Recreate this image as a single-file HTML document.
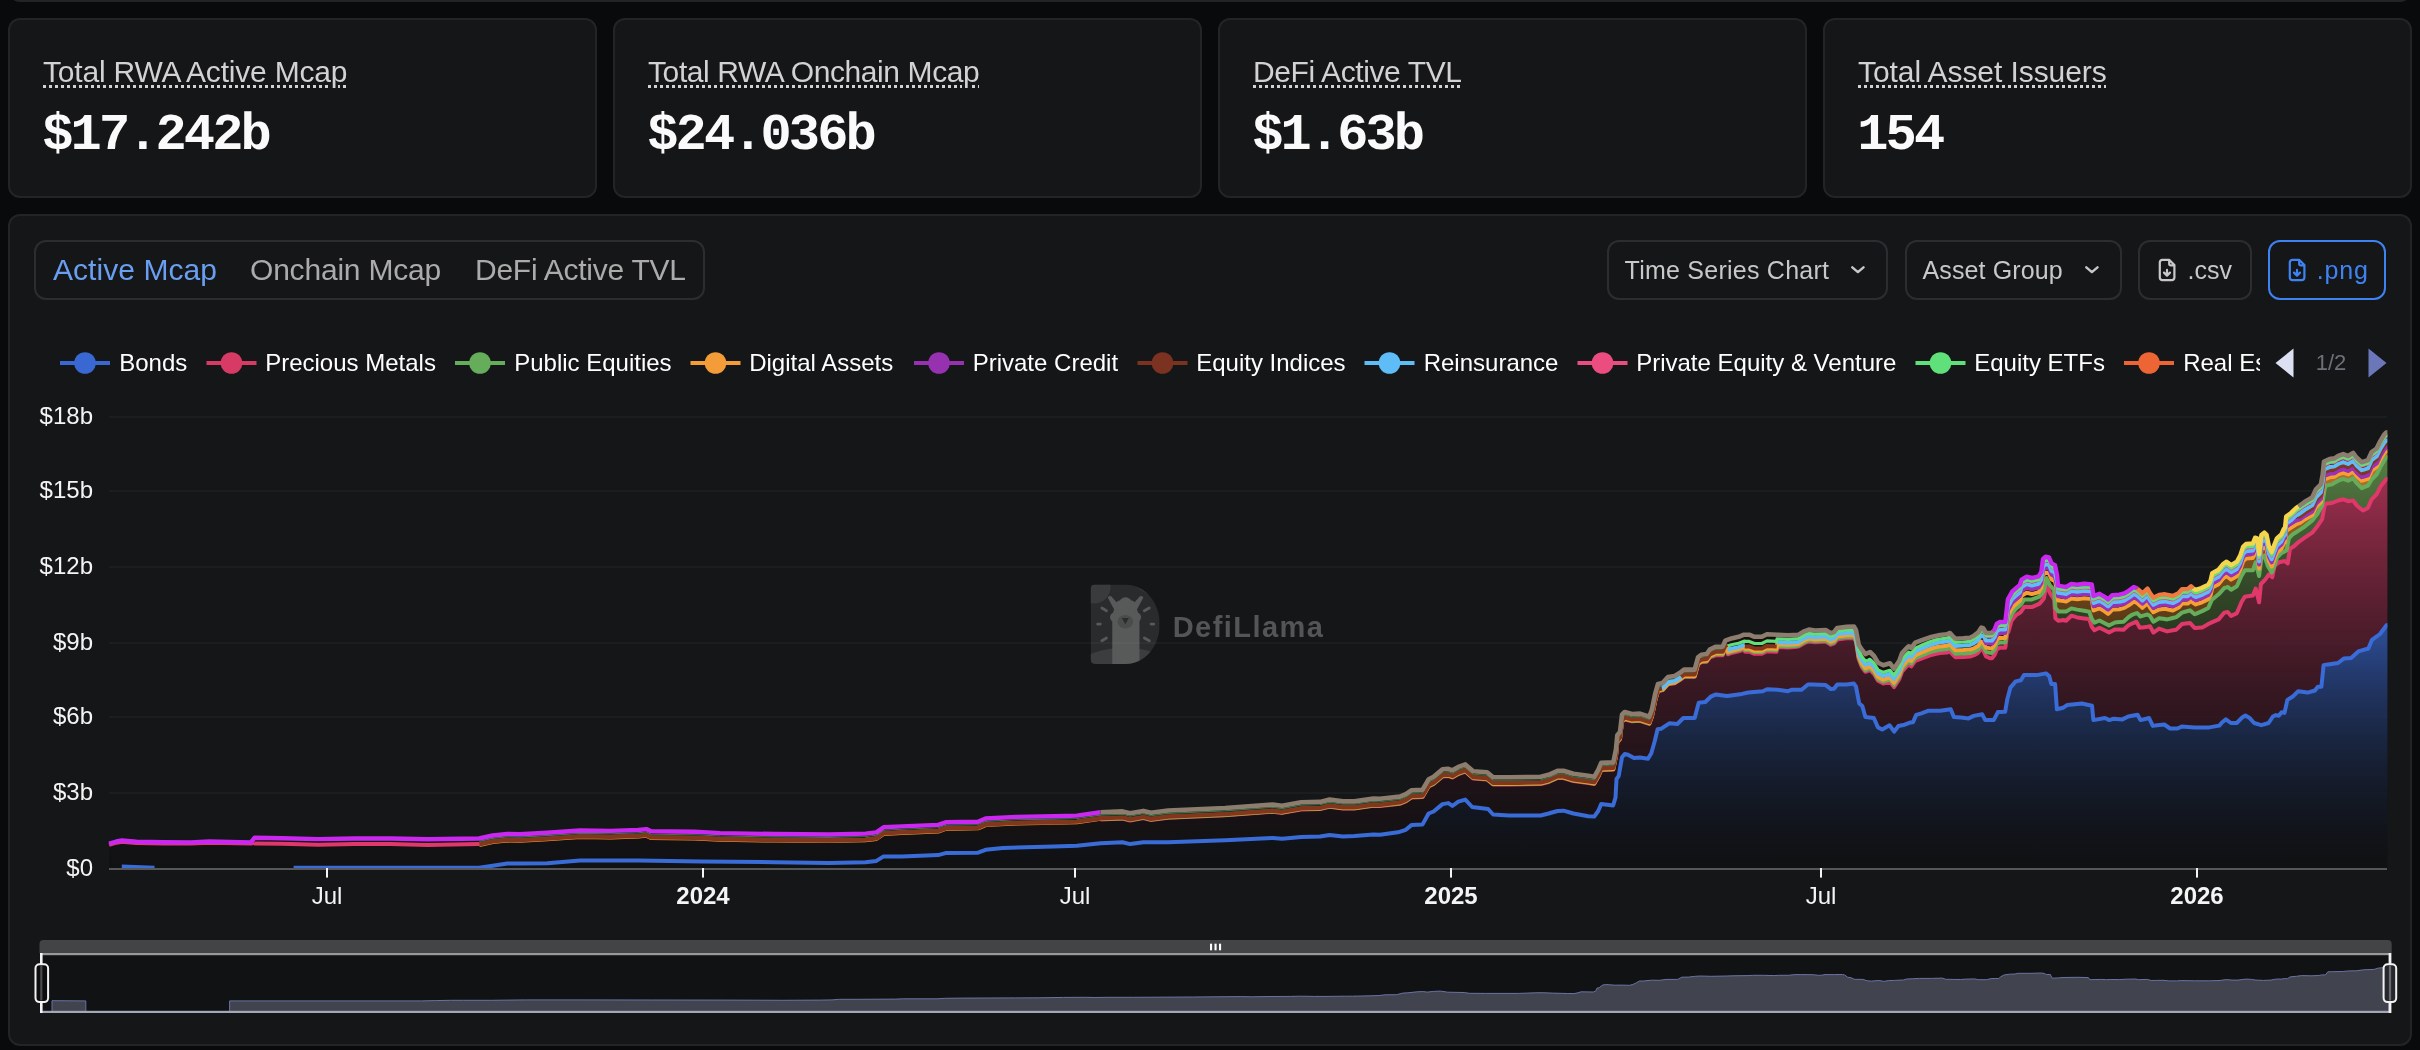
<!DOCTYPE html>
<html><head><meta charset="utf-8"><title>RWA</title>
<style>
*{box-sizing:border-box;margin:0;padding:0}
html,body{width:2420px;height:1050px;overflow:hidden;background:#090a0c}
body{position:relative;font-family:"Liberation Sans",sans-serif;color:#fff}
.abs{position:absolute}
.card{position:absolute;background:#151618;border:2px solid #232427;border-radius:12px}
.lbl{position:absolute;left:33px;top:33.5px;font-size:30px;line-height:36px;color:#d2d2d4;white-space:nowrap;letter-spacing:-0.2px;
 text-decoration:underline dotted;text-decoration-thickness:3px;text-underline-offset:2.5px;text-decoration-color:#d2d2d4}
.val{position:absolute;left:32.3px;top:85.5px;font-family:"Liberation Mono",monospace;font-weight:700;font-size:52px;line-height:60px;letter-spacing:-2.9px;color:#fafafa;white-space:nowrap}
.btn{position:absolute;top:240px;height:60px;border:2px solid #2b2e31;border-radius:12px;color:#c8c8c8;font-size:24px;white-space:nowrap}
.bt{position:absolute;top:255.5px;line-height:28px;font-size:25px;color:#c8c8c8;white-space:nowrap}
.tab{position:absolute;top:11px;font-size:30px;line-height:34px;color:#ababab;white-space:nowrap}
.lg{position:absolute;top:349px;height:28px;font-size:24px;line-height:28px;color:#fff;white-space:nowrap}
.yl{position:absolute;left:0;width:93px;text-align:right;font-size:24px;line-height:28px;color:#f4f4f4}
.xl{position:absolute;top:882px;width:120px;text-align:center;font-size:24px;line-height:28px;color:#f4f4f4}
.xl b{font-weight:700}
#root{position:absolute;left:0;top:0;width:2420px;height:1050px;will-change:transform;overflow:hidden}
</style></head><body><div id="root">
<!-- strip of card above -->
<div class="abs" style="left:8px;top:-40px;width:2404px;height:42px;background:#151619;border:2px solid #232427;border-radius:12px"></div>

<!-- stat cards -->
<div class="card" style="left:8px;top:18px;width:589px;height:180px"><div class="lbl">Total RWA Active Mcap</div><div class="val">$17.242b</div></div>
<div class="card" style="left:613px;top:18px;width:589px;height:180px"><div class="lbl" style="letter-spacing:-0.4px">Total RWA Onchain Mcap</div><div class="val">$24.036b</div></div>
<div class="card" style="left:1218px;top:18px;width:589px;height:180px"><div class="lbl" style="letter-spacing:-0.4px">DeFi Active TVL</div><div class="val">$1.63b</div></div>
<div class="card" style="left:1823px;top:18px;width:589px;height:180px"><div class="lbl" style="letter-spacing:-0.08px">Total Asset Issuers</div><div class="val">154</div></div>

<!-- chart card -->
<div class="card" style="left:8px;top:214px;width:2404px;height:832px"></div>

<!-- tabs -->
<div class="abs" style="left:34px;top:240px;width:671px;height:60px;border:2px solid #2b2e31;border-radius:12px">
 <div class="tab" style="left:17px;color:#6a9ef0;letter-spacing:0.05px">Active Mcap</div>
 <div class="tab" style="left:214px;letter-spacing:-0.2px">Onchain Mcap</div>
 <div class="tab" style="left:439px;letter-spacing:-0.25px">DeFi Active TVL</div>
</div>

<!-- right buttons -->
<div class="btn" style="left:1607px;width:281px"></div>
<div class="bt" style="left:1624.6px;letter-spacing:0.24px">Time Series Chart</div>
<svg class="abs" style="left:1851.2px;top:266.3px" width="16" height="10" viewBox="0 0 16 10"><path d="M1.3 1.3 L6.9 6.1 L12.5 1.3" fill="none" stroke="#c8c8c8" stroke-width="2.4" stroke-linecap="round" stroke-linejoin="round"/></svg>
<div class="btn" style="left:1905px;width:217px"></div>
<div class="bt" style="left:1922.6px;letter-spacing:0.1px">Asset Group</div>
<svg class="abs" style="left:2085.2px;top:266.3px" width="16" height="10" viewBox="0 0 16 10"><path d="M1.3 1.3 L6.9 6.1 L12.5 1.3" fill="none" stroke="#c8c8c8" stroke-width="2.4" stroke-linecap="round" stroke-linejoin="round"/></svg>
<div class="btn" style="left:2138px;width:114px"></div>
<svg class="abs" style="left:2154.9px;top:257.2px" width="24" height="26" viewBox="0 0 24 26"><path d="M14.4 2.9 H7.3 a2.5 2.5 0 0 0 -2.5 2.5 v15.2 a2.5 2.5 0 0 0 2.5 2.5 h9.6 a2.5 2.5 0 0 0 2.5 -2.5 V8 Z M14.2 3.1 v3.6 a1.6 1.6 0 0 0 1.6 1.6 h3.4 M12 12.9 v5.6 M9 15.6 l3 3 l3 -3" fill="none" stroke="#c8c8c8" stroke-width="2.2" stroke-linecap="round" stroke-linejoin="round"/></svg>
<div class="bt" style="left:2187.6px">.csv</div>
<div class="btn" style="left:2268px;width:118px;border-color:#3f83f3"></div>
<svg class="abs" style="left:2284.8px;top:257.2px" width="24" height="26" viewBox="0 0 24 26"><path d="M14.4 2.9 H7.3 a2.5 2.5 0 0 0 -2.5 2.5 v15.2 a2.5 2.5 0 0 0 2.5 2.5 h9.6 a2.5 2.5 0 0 0 2.5 -2.5 V8 Z M14.2 3.1 v3.6 a1.6 1.6 0 0 0 1.6 1.6 h3.4 M12 12.9 v5.6 M9 15.6 l3 3 l3 -3" fill="none" stroke="#3f83f3" stroke-width="2.2" stroke-linecap="round" stroke-linejoin="round"/></svg>
<div class="bt" style="left:2316.8px;color:#3f83f3;letter-spacing:0.8px">.png</div>
<!-- legend -->
<div class="abs" style="left:0;top:0;width:2259.5px;height:1050px;overflow:hidden">
<svg class="abs" style="left:0;top:340px" width="2260" height="46" viewBox="0 340 2260 46">
<rect x="60" y="361" width="50" height="4" fill="#3a68d2"/><circle cx="85" cy="363" r="10.8" fill="#3a68d2"/>
<rect x="206.5" y="361" width="50" height="4" fill="#d83a66"/><circle cx="231.5" cy="363" r="10.8" fill="#d83a66"/>
<rect x="455" y="361" width="50" height="4" fill="#66ad5b"/><circle cx="480" cy="363" r="10.8" fill="#66ad5b"/>
<rect x="690.5" y="361" width="50" height="4" fill="#f39c38"/><circle cx="715.5" cy="363" r="10.8" fill="#f39c38"/>
<rect x="914" y="361" width="50" height="4" fill="#9632b0"/><circle cx="939" cy="363" r="10.8" fill="#9632b0"/>
<rect x="1137.5" y="361" width="50" height="4" fill="#7b3220"/><circle cx="1162.5" cy="363" r="10.8" fill="#7b3220"/>
<rect x="1364.5" y="361" width="50" height="4" fill="#5ebdf6"/><circle cx="1389.5" cy="363" r="10.8" fill="#5ebdf6"/>
<rect x="1577.5" y="361" width="50" height="4" fill="#ec4d81"/><circle cx="1602.5" cy="363" r="10.8" fill="#ec4d81"/>
<rect x="1915.5" y="361" width="50" height="4" fill="#60e07b"/><circle cx="1940.5" cy="363" r="10.8" fill="#60e07b"/>
<rect x="2124" y="361" width="50" height="4" fill="#ee6535"/><circle cx="2149" cy="363" r="10.8" fill="#ee6535"/>
</svg>
<div class="lg" style="left:119.2px">Bonds</div>
<div class="lg" style="left:265.2px">Precious Metals</div>
<div class="lg" style="left:514.2px">Public Equities</div>
<div class="lg" style="left:749.2px">Digital Assets</div>
<div class="lg" style="left:972.7px">Private Credit</div>
<div class="lg" style="left:1196.2px">Equity Indices</div>
<div class="lg" style="left:1423.7px">Reinsurance</div>
<div class="lg" style="left:1636.2px">Private Equity &amp; Venture</div>
<div class="lg" style="left:1974.2px">Equity ETFs</div>
<div class="lg" style="left:2183.2px">Real Estate</div>
</div>
<svg class="abs" style="left:2270px;top:340px" width="130" height="46" viewBox="2270 340 130 46"><path d="M2293.5 348.5 L2293.5 377.5 L2275.5 363 Z" fill="#dde0f2"/><path d="M2368.5 348.5 L2368.5 377.5 L2386.5 363 Z" fill="#6b77b8"/></svg>
<div class="abs" style="left:2301px;top:350px;width:60px;text-align:center;font-size:22px;line-height:26px;color:#6e7079">1/2</div>
<!-- axes -->
<div class="yl" style="top:402.0px">$18b</div>
<div class="yl" style="top:476.0px">$15b</div>
<div class="yl" style="top:552.0px">$12b</div>
<div class="yl" style="top:628.0px">$9b</div>
<div class="yl" style="top:702.0px">$6b</div>
<div class="yl" style="top:778.0px">$3b</div>
<div class="yl" style="top:854.0px">$0</div>
<div class="xl" style="left:267px">Jul</div>
<div class="xl" style="left:643px"><b>2024</b></div>
<div class="xl" style="left:1015px">Jul</div>
<div class="xl" style="left:1391px"><b>2025</b></div>
<div class="xl" style="left:1761px">Jul</div>
<div class="xl" style="left:2137px"><b>2026</b></div>
<!-- watermark -->
<svg class="abs" style="left:1070px;top:570px" width="280" height="110" viewBox="0 0 2420 951">
<defs><clipPath id="dclip"><path d="M218,125 H470 C650,125 775,280 775,468 C775,657 650,812 470,812 H218 Q178,812 178,772 V165 Q178,125 218,125 Z"/></clipPath></defs>
<g clip-path="url(#dclip)">
<rect x="170" y="120" width="620" height="700" fill="#2a2b2d"/>
<circle cx="210" cy="150" r="140" fill="#3a3b3d"/>
<path d="M540,120 C600,170 640,200 700,215 L790,215 L790,120 Z" fill="#333436"/>
<ellipse cx="470" cy="1000" rx="520" ry="330" fill="#3c3d3f"/>
<g fill="#585a5a">
<rect x="365" y="420" width="235" height="400"/>
<circle cx="480" cy="385" r="108"/><circle cx="388" cy="408" r="42"/><circle cx="572" cy="408" r="42"/>
<circle cx="480" cy="292" r="56"/><circle cx="432" cy="304" r="40"/><circle cx="528" cy="304" r="40"/>
<path d="M326,238 Q336,218 356,228 L436,318 L386,350 Z"/><path d="M634,238 Q624,218 604,228 L524,318 L574,350 Z"/>
</g>
<ellipse cx="478" cy="447" rx="68" ry="58" fill="#4a4c4c"/>
<path d="M448,416 L508,416 L478,470 Z" fill="#2a2b2d"/>
<g stroke="#57595a" stroke-width="24" stroke-linecap="round" fill="none">
<path d="M275,328 L315,352"/><path d="M685,328 L642,352"/><path d="M238,467 L262,467"/><path d="M700,467 L724,467"/><path d="M275,612 L315,588"/><path d="M685,612 L642,588"/>
</g>
</g>
</svg>
<div class="abs" style="left:1172.7px;top:607px;font-size:29px;line-height:40px;font-weight:700;letter-spacing:1.45px;color:#545556;white-space:nowrap">DefiLlama</div>

<!-- chart -->
<svg class="abs" style="left:0;top:400px" width="2420" height="500" viewBox="0 400 2420 500">
<defs>
<linearGradient id="gB" gradientUnits="userSpaceOnUse" x1="0" y1="625" x2="0" y2="869.0"><stop offset="0" stop-color="#3a68d2" stop-opacity="0.7"/><stop offset="1" stop-color="#000" stop-opacity="0.217"/></linearGradient>
<linearGradient id="gP" gradientUnits="userSpaceOnUse" x1="0" y1="479" x2="0" y2="869.0"><stop offset="0" stop-color="#d83a66" stop-opacity="0.7"/><stop offset="1" stop-color="#000" stop-opacity="0.217"/></linearGradient>
<linearGradient id="gG" gradientUnits="userSpaceOnUse" x1="0" y1="457" x2="0" y2="869.0"><stop offset="0" stop-color="#66ad5b" stop-opacity="0.7"/><stop offset="1" stop-color="#000" stop-opacity="0.217"/></linearGradient>
<linearGradient id="gO" gradientUnits="userSpaceOnUse" x1="0" y1="470" x2="0" y2="869.0"><stop offset="0" stop-color="#f39c38" stop-opacity="0.7"/><stop offset="1" stop-color="#000" stop-opacity="0.217"/></linearGradient>
<linearGradient id="gT" gradientUnits="userSpaceOnUse" x1="0" y1="433" x2="0" y2="869.0"><stop offset="0" stop-color="#3a1408" stop-opacity="0.7"/><stop offset="1" stop-color="#000" stop-opacity="0.217"/></linearGradient>
</defs>
<clipPath id="above"><polygon points="109.0,400.0 2387.0,400.0 2387.0,432.0 2390.0,432.0 2386.2,432.5 2384.0,434.9 2380.3,441.1 2376.6,448.5 2371.6,452.2 2367.9,460.3 2361.7,462.2 2356.8,457.8 2353.1,452.9 2348.1,456.0 2343.2,454.1 2338.2,456.0 2334.5,458.4 2329.5,459.1 2324.0,461.5 2322.7,474.5 2320.9,484.4 2315.9,489.4 2312.2,497.4 2304.8,501.8 2299.8,505.5 2296.1,508.0 2291.1,512.9 2286.2,516.6 2285.0,527.8 2283.7,529.1 2281.4,534.3 2276.9,538.3 2274.6,544.0 2271.7,552.0 2268.9,546.3 2266.6,534.9 2264.3,532.6 2261.4,534.9 2259.1,554.3 2257.4,538.3 2255.1,537.7 2252.9,543.4 2246.0,544.0 2243.1,546.9 2240.3,555.4 2236.9,561.7 2231.1,565.1 2226.6,561.7 2223.1,564.0 2218.6,569.7 2212.3,573.1 2210.6,580.6 2208.3,584.6 2201.4,588.0 2195.7,589.9 2193.4,588.6 2191.1,586.3 2187.7,589.1 2182.0,589.1 2178.6,593.1 2172.9,596.0 2164.9,594.3 2159.1,594.9 2153.4,597.7 2150.0,593.1 2147.5,588.7 2142.4,593.4 2140.7,591.7 2136.8,588.3 2133.8,587.0 2128.7,590.8 2124.4,593.4 2119.3,594.7 2112.4,595.1 2108.1,599.4 2104.7,596.8 2099.5,593.8 2093.5,596.0 2091.8,584.4 2084.1,583.8 2077.3,584.8 2071.3,584.0 2066.1,587.0 2063.6,586.6 2058.0,585.7 2057.1,575.4 2055.0,565.1 2051.6,563.4 2049.0,557.4 2045.6,556.6 2043.0,559.1 2041.3,572.0 2038.7,576.3 2031.8,578.0 2026.7,576.7 2021.6,579.7 2019.9,584.8 2016.4,587.8 2012.1,591.7 2007.9,599.4 2005.3,622.1 2000.0,622.0 1996.7,624.0 1994.7,629.3 1992.0,633.0 1986.0,633.0 1983.3,628.3 1981.3,627.7 1978.0,632.7 1974.0,635.7 1970.0,637.7 1963.3,638.3 1955.3,638.7 1953.3,636.7 1950.0,633.0 1946.7,634.3 1940.0,635.0 1930.0,637.3 1923.3,639.7 1915.3,642.7 1911.3,648.0 1908.7,646.3 1906.0,648.7 1902.0,653.3 1899.3,660.7 1894.0,668.7 1890.0,663.3 1883.3,665.3 1878.0,662.7 1874.0,656.0 1870.0,652.0 1865.4,654.1 1861.3,648.9 1858.7,644.7 1856.0,630.1 1853.9,626.5 1846.6,626.9 1837.2,628.0 1834.0,632.1 1830.9,633.2 1825.7,630.1 1815.2,630.5 1808.9,629.6 1804.7,631.1 1798.4,634.7 1788.0,635.3 1777.5,634.7 1767.0,634.2 1761.8,636.8 1754.5,636.8 1749.2,634.7 1744.0,634.7 1738.7,636.8 1731.4,638.4 1725.3,640.7 1722.7,646.7 1716.0,646.7 1710.0,649.3 1706.7,654.0 1701.3,654.7 1698.0,657.3 1694.7,669.6 1684.0,669.6 1680.0,672.7 1674.7,676.0 1668.0,677.1 1662.7,682.9 1658.0,684.0 1655.3,693.3 1652.0,709.3 1649.3,716.7 1640.0,713.6 1632.0,714.0 1624.7,712.0 1622.0,714.7 1620.0,732.0 1617.3,735.3 1616.0,749.3 1613.3,762.4 1601.2,762.9 1598.2,769.8 1594.2,776.8 1588.3,775.8 1573.4,773.8 1563.5,770.8 1557.5,770.8 1548.6,774.8 1540.7,776.8 1508.9,777.3 1493.1,777.3 1487.1,772.3 1473.2,771.3 1465.3,764.4 1458.3,766.9 1452.4,770.3 1448.4,768.8 1442.5,769.3 1433.6,776.8 1428.6,779.3 1422.6,789.7 1411.7,790.2 1405.8,794.1 1399.8,796.6 1380.0,798.8 1373.4,798.6 1354.4,801.4 1343.0,801.4 1329.6,799.5 1320.1,801.9 1301.1,802.3 1282.1,805.7 1272.6,804.6 1225.1,808.0 1168.1,810.5 1151.0,812.8 1143.4,810.9 1130.1,813.3 1122.5,811.4 1100.6,812.2 1076.9,815.6 1054.0,816.2 1016.0,816.9 985.6,818.5 978.0,821.7 945.7,822.3 938.2,824.9 901.8,826.4 883.6,827.3 876.4,832.4 865.5,833.6 829.1,834.5 774.5,834.0 720.0,833.1 694.5,831.8 650.9,831.3 646.4,829.1 638.2,830.0 610.9,830.9 580.0,830.5 547.3,832.7 520.0,834.2 507.3,834.0 492.7,835.5 479.1,838.5 427.3,839.3 390.9,838.5 354.5,838.5 318.2,839.1 281.8,838.2 254.5,837.8 250.9,842.4 209.1,841.5 190.9,842.4 163.6,842.2 136.4,841.8 121.8,840.5 116.4,841.5 109.1,843.6 109.0,843.6"/></clipPath>
<rect x="109" y="416" width="2278" height="2" fill="#fff" fill-opacity="0.010"/>
<rect x="109" y="490" width="2278" height="2" fill="#fff" fill-opacity="0.010"/>
<rect x="109" y="566" width="2278" height="2" fill="#fff" fill-opacity="0.010"/>
<rect x="109" y="642" width="2278" height="2" fill="#fff" fill-opacity="0.010"/>
<rect x="109" y="716" width="2278" height="2" fill="#fff" fill-opacity="0.010"/>
<rect x="109" y="792" width="2278" height="2" fill="#fff" fill-opacity="0.010"/>
<g clip-path="url(#above)">
<rect x="109" y="416" width="2278" height="2" fill="#fff" fill-opacity="0.024"/>
<rect x="109" y="490" width="2278" height="2" fill="#fff" fill-opacity="0.024"/>
<rect x="109" y="566" width="2278" height="2" fill="#fff" fill-opacity="0.024"/>
<rect x="109" y="642" width="2278" height="2" fill="#fff" fill-opacity="0.024"/>
<rect x="109" y="716" width="2278" height="2" fill="#fff" fill-opacity="0.024"/>
<rect x="109" y="792" width="2278" height="2" fill="#fff" fill-opacity="0.024"/>
</g>
<clipPath id="plot"><rect x="100" y="400" width="2287.4" height="480"/></clipPath><g clip-path="url(#plot)"><polygon points="121.8,866.4 154.5,867.8 154.5,869.0 121.8,869.0" fill="url(#gB)"/>
<polygon points="293.6,867.8 479.1,867.8 492.7,865.8 507.3,863.6 520.0,863.4 547.3,863.3 580.0,860.5 638.2,860.5 701.8,861.5 774.5,862.2 829.1,863.1 865.5,862.2 876.4,860.9 883.6,856.4 901.8,856.4 938.2,855.1 945.5,853.1 978.0,852.7 985.6,849.8 1002.7,847.9 1054.0,846.6 1076.9,845.7 1100.6,843.2 1122.5,842.2 1130.1,844.1 1143.4,842.2 1168.1,842.2 1225.1,840.3 1272.6,837.9 1282.1,838.8 1301.1,836.9 1320.1,836.5 1329.6,835.0 1343.0,836.5 1354.4,836.0 1373.4,834.6 1380.0,834.8 1397.9,832.3 1405.8,829.8 1411.7,824.9 1422.6,824.4 1428.6,813.5 1433.6,811.5 1442.5,804.1 1448.4,803.1 1452.4,806.0 1458.3,801.6 1465.3,799.6 1472.2,807.0 1488.1,809.0 1493.1,814.5 1508.9,815.5 1540.7,815.5 1548.6,813.5 1557.5,811.0 1563.5,810.7 1573.4,813.5 1588.3,816.3 1594.2,816.6 1598.2,811.0 1601.2,804.1 1613.1,805.5 1615.5,797.6 1616.5,779.0 1618.7,776.0 1622.0,757.3 1624.7,754.0 1628.0,754.7 1634.0,758.0 1640.0,757.6 1648.0,758.7 1651.3,753.3 1654.7,741.3 1657.6,729.3 1661.3,728.7 1669.3,723.3 1677.3,724.0 1683.3,718.0 1694.7,718.0 1698.7,702.7 1705.3,702.0 1710.7,696.7 1716.0,694.4 1723.0,695.4 1727.2,696.0 1741.9,693.9 1748.2,692.5 1762.8,691.2 1767.0,689.3 1777.5,689.7 1788.0,691.2 1792.1,689.7 1801.6,689.7 1807.9,684.5 1813.1,684.5 1825.7,685.1 1830.9,689.1 1834.0,688.7 1837.2,684.5 1846.6,684.5 1853.9,683.5 1856.0,686.6 1859.2,703.4 1862.3,706.1 1865.4,717.0 1873.8,718.0 1878.0,727.4 1882.2,729.5 1889.5,725.3 1894.2,731.6 1898.4,726.0 1904.7,724.7 1909.9,722.6 1913.0,722.2 1916.2,714.9 1921.4,713.4 1928.7,710.7 1940.3,710.7 1950.7,709.2 1953.9,717.0 1961.2,717.6 1968.5,718.4 1973.8,715.9 1982.1,714.2 1985.3,720.1 1993.7,720.1 1997.9,712.1 2005.2,711.7 2007.3,699.2 2010.4,687.6 2015.7,681.4 2020.9,680.3 2024.0,675.1 2036.6,675.1 2046.0,673.4 2049.2,676.1 2051.3,684.0 2055.1,684.0 2056.9,709.3 2063.0,707.8 2067.4,704.9 2081.8,703.5 2092.0,705.7 2093.4,720.1 2105.0,718.0 2109.3,720.1 2113.7,718.7 2122.4,719.4 2128.2,716.5 2137.6,714.8 2140.5,720.1 2149.1,718.0 2152.8,725.9 2157.1,725.2 2164.3,724.5 2170.1,728.5 2177.4,728.5 2181.7,726.6 2194.7,727.4 2209.2,727.4 2219.3,725.6 2222.2,722.3 2225.9,719.4 2230.9,723.0 2236.7,723.0 2242.5,717.2 2245.4,715.5 2249.7,718.0 2254.1,723.0 2261.3,725.2 2268.6,723.0 2272.9,716.5 2275.8,715.1 2278.7,715.8 2281.6,712.2 2284.5,712.9 2287.4,699.9 2293.2,696.2 2298.2,691.2 2307.6,692.6 2314.9,690.5 2317.8,686.8 2321.4,686.8 2323.6,665.1 2327.9,664.4 2338.0,663.0 2343.8,658.6 2351.1,657.9 2358.3,651.4 2368.4,648.5 2372.0,639.8 2380.0,634.0 2384.3,628.2 2386.5,625.3 2390.0,624.6 2390.0,869.0 293.6,869.0" fill="url(#gB)"/>
<polygon points="109.1,844.8 116.4,842.7 121.8,841.7 136.4,843.0 163.6,843.4 190.9,843.6 209.1,842.7 250.9,843.6 254.0,839.6 254.5,842.7 254.6,843.4 281.8,843.8 318.2,844.7 354.5,844.1 390.9,844.1 427.3,844.9 479.0,844.1 479.1,844.3 479.6,845.4 492.7,842.5 507.3,841.0 520.0,841.2 547.3,839.7 580.0,837.5 610.9,837.9 638.2,837.0 646.4,836.1 650.9,838.3 694.5,838.8 720.0,840.1 774.5,841.0 829.1,841.5 865.5,840.6 876.4,839.4 883.6,834.3 901.8,833.4 938.2,831.9 945.7,829.3 978.0,828.7 985.6,825.5 1016.0,823.9 1054.0,823.2 1076.9,822.6 1100.0,819.3 1100.6,819.3 1101.0,819.4 1122.5,818.6 1130.1,820.5 1143.4,818.1 1151.0,820.0 1168.1,817.7 1225.1,815.2 1272.6,811.8 1282.1,812.9 1301.1,809.5 1320.1,809.1 1329.6,806.7 1343.0,808.6 1354.4,808.6 1373.4,805.8 1380.0,806.0 1399.8,803.8 1405.8,801.3 1411.7,797.4 1422.6,796.9 1428.6,786.5 1433.6,784.0 1442.5,776.5 1448.4,776.0 1452.4,777.5 1458.3,774.1 1465.3,771.6 1473.2,778.5 1487.1,779.5 1493.1,784.5 1508.9,784.5 1540.7,784.0 1548.6,782.0 1557.5,778.0 1563.5,778.0 1573.4,781.0 1588.3,783.0 1594.2,784.0 1598.2,777.0 1601.2,770.1 1613.3,769.6 1616.0,756.5 1617.3,742.5 1620.0,739.2 1622.0,721.9 1624.7,719.2 1632.0,721.2 1640.0,720.8 1649.3,723.9 1652.0,716.5 1655.3,700.5 1658.0,691.2 1662.7,690.1 1668.0,684.3 1674.7,683.2 1680.0,679.9 1684.0,676.8 1694.7,676.8 1698.0,664.5 1700.0,662.9 1701.3,662.0 1706.7,661.8 1710.0,657.4 1715.0,655.7 1716.0,655.3 1722.7,655.3 1725.3,649.3 1727.5,648.5 1728.0,654.3 1731.4,653.0 1738.7,651.4 1744.0,649.3 1744.5,649.3 1745.0,651.7 1749.2,651.7 1754.5,653.8 1761.8,653.8 1767.0,651.2 1776.5,651.7 1777.0,647.1 1777.5,647.1 1788.0,647.5 1795.0,646.9 1798.4,646.6 1804.7,643.0 1808.9,641.4 1815.2,642.2 1825.7,641.6 1830.9,644.7 1834.0,643.5 1837.2,639.4 1841.0,638.9 1846.6,638.3 1853.9,638.1 1856.0,641.7 1858.7,659.0 1861.3,665.7 1862.0,667.3 1865.4,671.8 1868.0,670.8 1870.0,669.9 1874.0,674.0 1878.0,680.8 1883.3,683.5 1890.0,681.7 1894.0,687.1 1899.3,679.1 1902.0,671.7 1906.0,667.1 1908.7,664.6 1911.3,666.3 1915.3,660.9 1923.3,657.8 1930.0,655.4 1936.0,653.9 1940.0,653.1 1946.7,652.6 1950.0,651.4 1953.3,655.2 1955.3,657.2 1963.3,657.0 1970.0,656.6 1974.0,655.2 1978.0,652.9 1980.0,650.2 1981.3,648.8 1983.3,650.4 1986.0,656.4 1990.0,658.3 1992.0,658.3 1994.7,654.7 1996.7,649.5 2000.0,647.5 2003.0,647.7 2005.3,647.7 2007.9,628.8 2008.3,632.1 2011.5,620.6 2012.1,619.9 2015.7,615.4 2016.4,614.9 2019.9,612.7 2020.9,612.0 2021.6,610.9 2024.1,607.1 2026.7,607.1 2031.8,607.1 2038.7,604.1 2039.6,603.7 2041.3,601.6 2043.0,599.6 2043.8,598.6 2045.6,589.0 2046.4,584.8 2049.0,590.8 2049.8,592.6 2051.6,595.4 2054.1,599.4 2055.0,612.5 2055.4,618.3 2057.1,619.7 2058.0,620.5 2058.4,620.8 2063.6,620.0 2066.1,620.8 2071.3,615.7 2077.3,617.4 2084.1,618.4 2089.3,619.1 2091.8,626.8 2093.5,629.1 2094.4,630.3 2099.5,627.7 2104.7,630.3 2108.1,632.0 2109.0,632.4 2112.4,630.7 2115.0,629.4 2119.3,629.6 2123.5,629.8 2124.4,629.0 2128.7,625.1 2133.8,622.8 2136.4,621.7 2136.8,622.4 2139.8,627.7 2140.7,627.6 2142.4,627.4 2147.5,626.8 2150.0,626.3 2153.4,632.6 2159.1,628.6 2164.9,630.6 2167.1,631.4 2172.9,630.3 2176.3,629.7 2178.6,627.4 2182.0,624.0 2187.7,623.2 2190.0,622.9 2191.1,624.1 2193.4,626.7 2194.6,628.0 2195.7,627.9 2201.4,627.5 2202.6,627.4 2208.3,624.0 2209.4,623.4 2210.6,622.9 2212.3,622.1 2218.6,619.4 2223.1,614.0 2224.3,612.6 2226.6,612.2 2227.7,612.0 2231.1,616.0 2236.9,613.1 2240.3,604.9 2241.4,602.3 2243.1,599.5 2244.9,596.6 2246.0,596.4 2252.9,595.4 2255.1,590.1 2255.7,588.6 2257.4,595.5 2259.1,602.3 2260.9,584.0 2261.4,583.5 2264.3,580.5 2265.4,579.4 2266.6,577.7 2268.9,574.3 2271.7,576.6 2272.3,577.1 2274.6,565.7 2276.9,564.0 2279.1,562.3 2281.4,561.8 2283.7,561.3 2284.9,561.1 2285.0,561.2 2286.2,562.2 2287.7,563.4 2290.0,548.6 2291.1,548.0 2294.0,546.3 2296.1,544.3 2298.6,542.0 2299.8,541.2 2304.8,537.7 2312.2,532.7 2315.9,528.1 2317.2,526.5 2320.9,520.9 2322.1,519.1 2322.7,515.8 2324.0,508.8 2324.6,505.5 2326.4,503.6 2329.5,503.3 2332.0,503.0 2334.5,502.0 2338.2,500.5 2343.2,499.3 2348.1,501.2 2353.1,500.5 2356.8,505.5 2361.7,509.5 2363.0,510.5 2367.9,508.0 2371.6,499.3 2376.6,494.3 2380.3,486.9 2384.0,482.0 2386.2,479.2 2390.0,478.6 2390.0,624.6 2386.5,625.3 2384.3,628.2 2380.0,634.0 2372.0,639.8 2368.4,648.5 2358.3,651.4 2351.1,657.9 2343.8,658.6 2338.0,663.0 2327.9,664.4 2323.6,665.1 2321.4,686.8 2317.8,686.8 2314.9,690.5 2307.6,692.6 2298.2,691.2 2293.2,696.2 2287.4,699.9 2284.5,712.9 2281.6,712.2 2278.7,715.8 2275.8,715.1 2272.9,716.5 2268.6,723.0 2261.3,725.2 2254.1,723.0 2249.7,718.0 2245.4,715.5 2242.5,717.2 2236.7,723.0 2230.9,723.0 2225.9,719.4 2222.2,722.3 2219.3,725.6 2209.2,727.4 2194.7,727.4 2181.7,726.6 2177.4,728.5 2170.1,728.5 2164.3,724.5 2157.1,725.2 2152.8,725.9 2149.1,718.0 2140.5,720.1 2137.6,714.8 2128.2,716.5 2122.4,719.4 2113.7,718.7 2109.3,720.1 2105.0,718.0 2093.4,720.1 2092.0,705.7 2081.8,703.5 2067.4,704.9 2063.0,707.8 2056.9,709.3 2055.1,684.0 2051.3,684.0 2049.2,676.1 2046.0,673.4 2036.6,675.1 2024.0,675.1 2020.9,680.3 2015.7,681.4 2010.4,687.6 2007.3,699.2 2005.2,711.7 1997.9,712.1 1993.7,720.1 1985.3,720.1 1982.1,714.2 1973.8,715.9 1968.5,718.4 1961.2,717.6 1953.9,717.0 1950.7,709.2 1940.3,710.7 1928.7,710.7 1921.4,713.4 1916.2,714.9 1913.0,722.2 1909.9,722.6 1904.7,724.7 1898.4,726.0 1894.2,731.6 1889.5,725.3 1882.2,729.5 1878.0,727.4 1873.8,718.0 1865.4,717.0 1862.3,706.1 1859.2,703.4 1856.0,686.6 1853.9,683.5 1846.6,684.5 1837.2,684.5 1834.0,688.7 1830.9,689.1 1825.7,685.1 1813.1,684.5 1807.9,684.5 1801.6,689.7 1792.1,689.7 1788.0,691.2 1777.5,689.7 1767.0,689.3 1762.8,691.2 1748.2,692.5 1741.9,693.9 1727.2,696.0 1723.0,695.4 1716.0,694.4 1710.7,696.7 1705.3,702.0 1698.7,702.7 1694.7,718.0 1683.3,718.0 1677.3,724.0 1669.3,723.3 1661.3,728.7 1657.6,729.3 1654.7,741.3 1651.3,753.3 1648.0,758.7 1640.0,757.6 1634.0,758.0 1628.0,754.7 1624.7,754.0 1622.0,757.3 1618.7,776.0 1616.5,779.0 1615.5,797.6 1613.1,805.5 1601.2,804.1 1598.2,811.0 1594.2,816.6 1588.3,816.3 1573.4,813.5 1563.5,810.7 1557.5,811.0 1548.6,813.5 1540.7,815.5 1508.9,815.5 1493.1,814.5 1488.1,809.0 1472.2,807.0 1465.3,799.6 1458.3,801.6 1452.4,806.0 1448.4,803.1 1442.5,804.1 1433.6,811.5 1428.6,813.5 1422.6,824.4 1411.7,824.9 1405.8,829.8 1397.9,832.3 1380.0,834.8 1373.4,834.6 1354.4,836.0 1343.0,836.5 1329.6,835.0 1320.1,836.5 1301.1,836.9 1282.1,838.8 1272.6,837.9 1225.1,840.3 1168.1,842.2 1143.4,842.2 1130.1,844.1 1122.5,842.2 1100.6,843.2 1076.9,845.7 1054.0,846.6 1002.7,847.9 985.6,849.8 978.0,852.7 945.5,853.1 938.2,855.1 901.8,856.4 883.6,856.4 876.4,860.9 865.5,862.2 829.1,863.1 774.5,862.2 701.8,861.5 638.2,860.5 580.0,860.5 547.3,863.3 520.0,863.4 507.3,863.6 492.7,865.8 479.1,867.8 293.6,867.8 293.6,869.0 154.5,869.0 154.5,867.8 121.8,866.4 121.8,869.0 109.1,869.0" fill="url(#gP)"/>
<polygon points="109.1,843.6 116.4,841.5 121.8,840.5 136.4,841.8 163.6,842.2 190.9,842.4 209.1,841.5 250.9,842.4 254.5,837.8 281.8,838.2 318.2,839.1 354.5,838.5 390.9,838.5 427.3,839.3 479.1,838.5 492.7,835.5 507.3,834.0 520.0,834.2 547.3,832.7 580.0,830.5 610.9,830.9 638.2,830.0 646.4,829.1 650.9,831.3 694.5,831.8 720.0,833.1 774.5,834.0 829.1,834.5 865.5,833.6 876.4,832.4 883.6,827.3 901.8,826.4 938.2,824.9 945.7,822.3 978.0,821.7 985.6,818.5 1016.0,816.9 1054.0,816.2 1076.9,815.6 1100.6,812.2 1122.5,811.4 1130.1,813.3 1143.4,810.9 1151.0,812.8 1168.1,810.5 1225.1,808.0 1272.6,804.6 1282.1,805.7 1301.1,802.3 1320.1,801.9 1329.6,799.5 1343.0,801.4 1354.4,801.4 1373.4,798.6 1380.0,798.8 1399.8,796.6 1405.8,794.1 1411.7,790.2 1422.6,789.7 1428.6,779.3 1433.6,776.8 1442.5,769.3 1448.4,768.8 1452.4,770.3 1458.3,766.9 1465.3,764.4 1473.2,771.3 1487.1,772.3 1493.1,777.3 1508.9,777.3 1540.7,776.8 1548.6,774.8 1557.5,770.8 1563.5,770.8 1573.4,773.8 1588.3,775.8 1594.2,776.8 1598.2,769.8 1601.2,762.9 1613.3,762.4 1616.0,749.3 1617.3,735.3 1620.0,732.0 1622.0,714.7 1624.7,712.0 1632.0,714.0 1640.0,713.6 1649.3,716.7 1652.0,709.3 1655.3,693.3 1658.0,684.0 1662.7,682.9 1668.0,677.1 1674.7,676.0 1680.0,672.7 1684.0,669.6 1694.7,669.6 1698.0,657.3 1701.3,654.7 1706.7,654.0 1710.0,649.3 1716.0,646.7 1722.7,646.7 1725.3,640.7 1731.4,638.4 1738.7,636.8 1744.0,634.7 1749.2,634.7 1754.5,636.8 1761.8,636.8 1767.0,634.2 1777.5,634.7 1788.0,635.3 1798.4,634.7 1804.7,631.1 1808.9,629.6 1815.2,630.5 1825.7,630.1 1830.9,633.2 1834.0,632.1 1837.2,628.0 1846.6,626.9 1853.9,626.5 1856.0,630.1 1858.7,644.7 1861.3,648.9 1865.4,654.1 1870.0,652.0 1874.0,656.0 1878.0,662.7 1883.3,665.3 1890.0,663.3 1894.0,668.7 1899.3,660.7 1902.0,653.3 1906.0,648.7 1908.7,646.3 1911.3,648.0 1915.3,642.7 1923.3,639.7 1930.0,637.3 1940.0,635.0 1946.7,634.3 1950.0,633.0 1953.3,636.7 1955.3,638.7 1963.3,638.3 1970.0,637.7 1974.0,635.7 1978.0,632.7 1981.3,627.7 1983.3,628.3 1986.0,633.0 1992.0,633.0 1994.7,629.3 1996.7,624.0 2000.0,622.0 2005.3,622.1 2007.9,599.4 2012.1,591.7 2016.4,587.8 2019.9,584.8 2021.6,579.7 2026.7,576.7 2031.8,578.0 2038.7,576.3 2041.3,572.0 2043.0,559.1 2045.6,556.6 2049.0,557.4 2051.6,563.4 2055.0,565.1 2057.1,575.4 2058.0,585.7 2063.6,586.6 2066.1,587.0 2071.3,584.0 2077.3,584.8 2084.1,583.8 2091.8,584.4 2093.5,596.0 2099.5,593.8 2104.7,596.8 2108.1,599.4 2112.4,595.1 2119.3,594.7 2124.4,593.4 2128.7,590.8 2133.8,587.0 2136.8,588.3 2140.7,591.7 2142.4,593.4 2147.5,588.7 2150.0,593.1 2153.4,597.7 2159.1,594.9 2164.9,594.3 2172.9,596.0 2178.6,593.1 2182.0,589.1 2187.7,589.1 2191.1,586.3 2193.4,588.6 2195.7,589.9 2201.4,588.0 2208.3,584.6 2210.6,580.6 2212.3,573.1 2218.6,569.7 2223.1,564.0 2226.6,561.7 2231.1,565.1 2236.9,561.7 2240.3,555.4 2243.1,546.9 2246.0,544.0 2252.9,543.4 2255.1,537.7 2257.4,538.3 2259.1,554.3 2261.4,534.9 2264.3,532.6 2266.6,534.9 2268.9,546.3 2271.7,552.0 2274.6,544.0 2276.9,538.3 2281.4,534.3 2283.7,529.1 2285.0,527.8 2286.2,516.6 2291.1,512.9 2296.1,508.0 2299.8,505.5 2304.8,501.8 2312.2,497.4 2315.9,489.4 2320.9,484.4 2322.7,474.5 2324.0,461.5 2329.5,459.1 2334.5,458.4 2338.2,456.0 2343.2,454.1 2348.1,456.0 2353.1,452.9 2356.8,457.8 2361.7,462.2 2367.9,460.3 2371.6,452.2 2376.6,448.5 2380.3,441.1 2384.0,434.9 2386.2,432.5 2390.0,432.0 2390.0,478.6 2386.2,479.2 2384.0,482.0 2380.3,486.9 2376.6,494.3 2371.6,499.3 2367.9,508.0 2363.0,510.5 2361.7,509.5 2356.8,505.5 2353.1,500.5 2348.1,501.2 2343.2,499.3 2338.2,500.5 2334.5,502.0 2332.0,503.0 2329.5,503.3 2326.4,503.6 2324.6,505.5 2324.0,508.8 2322.7,515.8 2322.1,519.1 2320.9,520.9 2317.2,526.5 2315.9,528.1 2312.2,532.7 2304.8,537.7 2299.8,541.2 2298.6,542.0 2296.1,544.3 2294.0,546.3 2291.1,548.0 2290.0,548.6 2287.7,563.4 2286.2,562.2 2285.0,561.2 2284.9,561.1 2283.7,561.3 2281.4,561.8 2279.1,562.3 2276.9,564.0 2274.6,565.7 2272.3,577.1 2271.7,576.6 2268.9,574.3 2266.6,577.7 2265.4,579.4 2264.3,580.5 2261.4,583.5 2260.9,584.0 2259.1,602.3 2257.4,595.5 2255.7,588.6 2255.1,590.1 2252.9,595.4 2246.0,596.4 2244.9,596.6 2243.1,599.5 2241.4,602.3 2240.3,604.9 2236.9,613.1 2231.1,616.0 2227.7,612.0 2226.6,612.2 2224.3,612.6 2223.1,614.0 2218.6,619.4 2212.3,622.1 2210.6,622.9 2209.4,623.4 2208.3,624.0 2202.6,627.4 2201.4,627.5 2195.7,627.9 2194.6,628.0 2193.4,626.7 2191.1,624.1 2190.0,622.9 2187.7,623.2 2182.0,624.0 2178.6,627.4 2176.3,629.7 2172.9,630.3 2167.1,631.4 2164.9,630.6 2159.1,628.6 2153.4,632.6 2150.0,626.3 2147.5,626.8 2142.4,627.4 2140.7,627.6 2139.8,627.7 2136.8,622.4 2136.4,621.7 2133.8,622.8 2128.7,625.1 2124.4,629.0 2123.5,629.8 2119.3,629.6 2115.0,629.4 2112.4,630.7 2109.0,632.4 2108.1,632.0 2104.7,630.3 2099.5,627.7 2094.4,630.3 2093.5,629.1 2091.8,626.8 2089.3,619.1 2084.1,618.4 2077.3,617.4 2071.3,615.7 2066.1,620.8 2063.6,620.0 2058.4,620.8 2058.0,620.5 2057.1,619.7 2055.4,618.3 2055.0,612.5 2054.1,599.4 2051.6,595.4 2049.8,592.6 2049.0,590.8 2046.4,584.8 2045.6,589.0 2043.8,598.6 2043.0,599.6 2041.3,601.6 2039.6,603.7 2038.7,604.1 2031.8,607.1 2026.7,607.1 2024.1,607.1 2021.6,610.9 2020.9,612.0 2019.9,612.7 2016.4,614.9 2015.7,615.4 2012.1,619.9 2011.5,620.6 2008.3,632.1 2007.9,628.8 2005.3,647.7 2003.0,647.7 2000.0,647.5 1996.7,649.5 1994.7,654.7 1992.0,658.3 1990.0,658.3 1986.0,656.4 1983.3,650.4 1981.3,648.8 1980.0,650.2 1978.0,652.9 1974.0,655.2 1970.0,656.6 1963.3,657.0 1955.3,657.2 1953.3,655.2 1950.0,651.4 1946.7,652.6 1940.0,653.1 1936.0,653.9 1930.0,655.4 1923.3,657.8 1915.3,660.9 1911.3,666.3 1908.7,664.6 1906.0,667.1 1902.0,671.7 1899.3,679.1 1894.0,687.1 1890.0,681.7 1883.3,683.5 1878.0,680.8 1874.0,674.0 1870.0,669.9 1868.0,670.8 1865.4,671.8 1862.0,667.3 1861.3,665.7 1858.7,659.0 1856.0,641.7 1853.9,638.1 1846.6,638.3 1841.0,638.9 1837.2,639.4 1834.0,643.5 1830.9,644.7 1825.7,641.6 1815.2,642.2 1808.9,641.4 1804.7,643.0 1798.4,646.6 1795.0,646.9 1788.0,647.5 1777.5,647.1 1777.0,647.1 1776.5,651.7 1767.0,651.2 1761.8,653.8 1754.5,653.8 1749.2,651.7 1745.0,651.7 1744.5,649.3 1744.0,649.3 1738.7,651.4 1731.4,653.0 1728.0,654.3 1727.5,648.5 1725.3,649.3 1722.7,655.3 1716.0,655.3 1715.0,655.7 1710.0,657.4 1706.7,661.8 1701.3,662.0 1700.0,662.9 1698.0,664.5 1694.7,676.8 1684.0,676.8 1680.0,679.9 1674.7,683.2 1668.0,684.3 1662.7,690.1 1658.0,691.2 1655.3,700.5 1652.0,716.5 1649.3,723.9 1640.0,720.8 1632.0,721.2 1624.7,719.2 1622.0,721.9 1620.0,739.2 1617.3,742.5 1616.0,756.5 1613.3,769.6 1601.2,770.1 1598.2,777.0 1594.2,784.0 1588.3,783.0 1573.4,781.0 1563.5,778.0 1557.5,778.0 1548.6,782.0 1540.7,784.0 1508.9,784.5 1493.1,784.5 1487.1,779.5 1473.2,778.5 1465.3,771.6 1458.3,774.1 1452.4,777.5 1448.4,776.0 1442.5,776.5 1433.6,784.0 1428.6,786.5 1422.6,796.9 1411.7,797.4 1405.8,801.3 1399.8,803.8 1380.0,806.0 1373.4,805.8 1354.4,808.6 1343.0,808.6 1329.6,806.7 1320.1,809.1 1301.1,809.5 1282.1,812.9 1272.6,811.8 1225.1,815.2 1168.1,817.7 1151.0,820.0 1143.4,818.1 1130.1,820.5 1122.5,818.6 1101.0,819.4 1100.6,819.3 1100.0,819.3 1076.9,822.6 1054.0,823.2 1016.0,823.9 985.6,825.5 978.0,828.7 945.7,829.3 938.2,831.9 901.8,833.4 883.6,834.3 876.4,839.4 865.5,840.6 829.1,841.5 774.5,841.0 720.0,840.1 694.5,838.8 650.9,838.3 646.4,836.1 638.2,837.0 610.9,837.9 580.0,837.5 547.3,839.7 520.0,841.2 507.3,841.0 492.7,842.5 479.6,845.4 479.1,844.3 479.0,844.1 427.3,844.9 390.9,844.1 354.5,844.1 318.2,844.7 281.8,843.8 254.6,843.4 254.5,842.7 254.0,839.6 250.9,843.6 209.1,842.7 190.9,843.6 163.6,843.4 136.4,843.0 121.8,841.7 116.4,842.7 109.1,844.8" fill="url(#gT)"/>
<polygon points="1858.0,653.1 1858.7,657.6 1861.3,664.2 1865.4,670.3 1870.0,668.3 1874.0,672.3 1878.0,679.0 1883.3,681.6 1890.0,679.6 1894.0,684.9 1899.3,676.7 1902.0,669.2 1906.0,664.4 1908.7,661.9 1911.3,663.5 1915.3,658.1 1923.3,654.8 1930.0,652.1 1940.0,649.7 1946.7,649.1 1950.0,647.9 1953.3,651.7 1955.3,653.7 1963.3,653.5 1970.0,653.0 1974.0,651.9 1978.0,649.8 1981.3,645.5 1983.3,646.6 1986.0,651.9 1992.0,652.9 1994.7,649.3 1996.7,644.1 2000.0,642.2 2005.3,642.3 2007.9,622.9 2008.3,626.2 2011.5,614.3 2012.1,613.5 2015.7,608.6 2016.4,608.1 2019.9,605.4 2020.9,604.7 2021.6,603.5 2024.1,599.4 2026.7,599.4 2031.8,599.4 2038.7,596.8 2039.6,596.5 2041.3,594.3 2043.0,592.0 2043.8,591.0 2045.6,582.0 2046.4,578.0 2049.0,583.4 2049.8,585.0 2051.6,587.1 2054.1,590.0 2055.0,602.5 2055.4,608.0 2057.1,609.9 2058.0,610.9 2058.4,611.4 2063.6,611.5 2066.1,611.6 2071.3,608.4 2077.3,609.6 2084.1,610.8 2089.3,611.8 2091.8,619.0 2093.5,621.4 2094.4,622.6 2099.5,620.5 2104.7,623.2 2108.1,625.0 2109.0,625.5 2112.4,623.8 2115.0,622.5 2119.3,622.1 2123.5,621.7 2124.4,620.9 2128.7,617.0 2132.1,614.8 2133.8,614.2 2136.4,613.4 2136.8,613.2 2137.2,613.1 2139.8,615.8 2140.5,616.5 2140.7,616.4 2142.4,615.9 2147.5,614.4 2150.0,616.0 2153.4,621.7 2159.1,618.3 2164.9,619.1 2167.1,619.4 2172.9,618.0 2176.3,617.1 2178.6,615.3 2182.0,612.6 2187.7,611.0 2190.0,610.3 2191.1,611.3 2193.4,613.3 2194.6,614.3 2195.7,613.8 2201.4,611.4 2202.6,610.9 2208.3,608.0 2209.4,605.4 2210.6,602.6 2211.7,600.0 2212.3,599.5 2218.6,594.3 2223.1,589.3 2224.3,588.0 2226.6,587.3 2227.7,586.9 2231.1,589.7 2236.9,586.3 2240.3,578.5 2241.4,576.0 2243.1,573.2 2244.9,570.3 2246.0,570.3 2252.9,570.3 2255.1,564.0 2255.7,562.3 2257.4,569.2 2259.1,576.0 2260.9,561.7 2261.4,557.7 2264.3,555.4 2265.4,558.7 2266.6,562.4 2267.7,565.7 2268.9,567.8 2271.7,572.6 2272.3,571.2 2274.6,565.7 2276.9,557.7 2279.1,555.5 2281.4,553.1 2283.7,551.9 2284.9,551.2 2285.0,551.2 2286.2,550.5 2286.6,550.3 2287.7,544.6 2288.9,538.3 2290.0,537.1 2291.1,535.9 2292.4,534.5 2294.0,533.5 2296.1,532.2 2298.6,530.6 2299.8,529.8 2304.8,526.5 2312.2,520.4 2315.9,515.8 2317.2,514.2 2320.9,507.6 2322.1,505.5 2322.7,501.6 2324.0,493.3 2324.6,489.4 2325.8,485.7 2326.4,485.6 2329.5,484.9 2332.0,484.4 2334.5,482.9 2338.2,480.7 2343.2,478.9 2348.1,480.7 2353.1,478.3 2356.8,483.2 2361.7,488.2 2363.0,487.7 2367.9,485.7 2371.6,479.5 2376.6,474.5 2380.3,467.1 2384.0,460.9 2386.2,457.6 2390.0,457.0 2390.0,478.6 2386.2,479.2 2384.0,482.0 2380.3,486.9 2376.6,494.3 2371.6,499.3 2367.9,508.0 2363.0,510.5 2361.7,509.5 2356.8,505.5 2353.1,500.5 2348.1,501.2 2343.2,499.3 2338.2,500.5 2334.5,502.0 2332.0,503.0 2329.5,503.3 2326.4,503.6 2325.8,504.2 2324.6,505.5 2324.0,508.8 2322.7,515.8 2322.1,519.1 2320.9,520.9 2317.2,526.5 2315.9,528.1 2312.2,532.7 2304.8,537.7 2299.8,541.2 2298.6,542.0 2296.1,544.3 2294.0,546.3 2292.4,547.2 2291.1,548.0 2290.0,548.6 2288.9,555.7 2287.7,563.4 2286.6,562.5 2286.2,562.2 2285.0,561.2 2284.9,561.1 2283.7,561.3 2281.4,561.8 2279.1,562.3 2276.9,564.0 2274.6,565.7 2272.3,577.1 2271.7,576.6 2268.9,574.3 2267.7,576.0 2266.6,577.7 2265.4,579.4 2264.3,580.5 2261.4,583.5 2260.9,584.0 2259.1,602.3 2257.4,595.5 2255.7,588.6 2255.1,590.1 2252.9,595.4 2246.0,596.4 2244.9,596.6 2243.1,599.5 2241.4,602.3 2240.3,604.9 2236.9,613.1 2231.1,616.0 2227.7,612.0 2226.6,612.2 2224.3,612.6 2223.1,614.0 2218.6,619.4 2212.3,622.1 2211.7,622.4 2210.6,622.9 2209.4,623.4 2208.3,624.0 2202.6,627.4 2201.4,627.5 2195.7,627.9 2194.6,628.0 2193.4,626.7 2191.1,624.1 2190.0,622.9 2187.7,623.2 2182.0,624.0 2178.6,627.4 2176.3,629.7 2172.9,630.3 2167.1,631.4 2164.9,630.6 2159.1,628.6 2153.4,632.6 2150.0,626.3 2147.5,626.8 2142.4,627.4 2140.7,627.6 2140.5,627.6 2139.8,627.7 2137.2,623.1 2136.8,622.4 2136.4,621.7 2133.8,622.8 2132.1,623.6 2128.7,625.1 2124.4,629.0 2123.5,629.8 2119.3,629.6 2115.0,629.4 2112.4,630.7 2109.0,632.4 2108.1,632.0 2104.7,630.3 2099.5,627.7 2094.4,630.3 2093.5,629.1 2091.8,626.8 2089.3,619.1 2084.1,618.4 2077.3,617.4 2071.3,615.7 2066.1,620.8 2063.6,620.0 2058.4,620.8 2058.0,620.5 2057.1,619.7 2055.4,618.3 2055.0,612.5 2054.1,599.4 2051.6,595.4 2049.8,592.6 2049.0,590.8 2046.4,584.8 2045.6,589.0 2043.8,598.6 2043.0,599.6 2041.3,601.6 2039.6,603.7 2038.7,604.1 2031.8,607.1 2026.7,607.1 2024.1,607.1 2021.6,610.9 2020.9,612.0 2019.9,612.7 2016.4,614.9 2015.7,615.4 2012.1,619.9 2011.5,620.6 2008.3,632.1 2007.9,628.8 2005.3,647.7 2000.0,647.5 1996.7,649.5 1994.7,654.7 1992.0,658.3 1986.0,656.4 1983.3,650.4 1981.3,648.8 1978.0,652.9 1974.0,655.2 1970.0,656.6 1963.3,657.0 1955.3,657.2 1953.3,655.2 1950.0,651.4 1946.7,652.6 1940.0,653.1 1930.0,655.4 1923.3,657.8 1915.3,660.9 1911.3,666.3 1908.7,664.6 1906.0,667.1 1902.0,671.7 1899.3,679.1 1894.0,687.1 1890.0,681.7 1883.3,683.5 1878.0,680.8 1874.0,674.0 1870.0,669.9 1865.4,671.8 1861.3,665.7 1858.7,659.0 1858.0,654.5" fill="url(#gG)"/>
<polygon points="2056.0,586.0 2057.1,590.7 2058.0,600.5 2058.4,600.3 2058.5,600.3 2063.6,601.1 2066.1,601.5 2071.3,598.5 2077.3,599.3 2084.1,598.3 2089.3,598.7 2091.8,598.9 2093.5,610.5 2094.4,610.2 2099.5,608.3 2104.7,611.3 2108.1,613.9 2109.0,613.0 2112.4,609.6 2115.0,609.4 2119.3,609.2 2123.5,608.1 2124.4,607.9 2128.7,605.3 2132.1,602.8 2133.8,601.5 2136.4,602.6 2136.8,602.8 2137.2,603.1 2139.8,605.4 2140.5,606.0 2140.7,606.2 2142.4,607.9 2147.5,603.2 2150.0,607.6 2153.4,612.2 2159.1,609.4 2164.9,608.8 2167.1,609.3 2172.9,610.5 2176.3,608.8 2178.6,607.6 2182.0,603.6 2187.7,603.6 2190.0,601.7 2191.1,600.8 2193.4,603.1 2194.6,603.8 2195.7,604.4 2201.4,602.5 2202.6,601.9 2208.3,599.1 2209.4,597.2 2210.6,595.1 2211.7,590.2 2212.3,587.6 2218.6,584.2 2223.1,578.5 2224.3,577.7 2226.6,576.2 2227.7,577.0 2231.1,579.6 2236.9,576.2 2240.3,569.9 2241.4,566.6 2243.1,561.4 2244.9,559.6 2246.0,558.5 2252.9,557.9 2255.1,552.2 2255.7,552.4 2257.4,552.8 2259.1,568.8 2260.9,553.6 2261.4,549.4 2264.3,547.1 2265.4,548.2 2266.6,549.4 2267.7,554.9 2268.9,560.8 2271.7,566.5 2272.3,564.8 2274.6,558.5 2276.9,552.8 2279.1,550.8 2281.4,548.8 2283.7,543.6 2284.9,542.4 2285.0,542.3 2286.2,531.1 2286.6,530.8 2287.7,530.0 2288.9,529.1 2290.0,528.2 2291.1,527.7 2292.4,526.8 2294.0,525.8 2296.1,524.3 2298.6,523.4 2299.8,522.9 2300.0,522.9 2304.8,519.4 2312.2,515.2 2315.9,507.3 2317.2,506.0 2320.9,502.4 2322.1,495.8 2322.7,492.5 2324.0,479.6 2324.6,479.3 2325.8,478.8 2326.4,478.6 2329.5,477.3 2332.0,477.0 2334.5,476.7 2338.2,474.4 2342.0,473.1 2343.2,472.6 2348.1,474.5 2353.1,471.4 2356.8,476.3 2361.7,480.7 2363.0,480.3 2367.9,478.8 2371.6,470.7 2376.6,467.0 2380.3,459.6 2384.0,453.4 2386.2,451.0 2390.0,450.5 2390.0,457.0 2386.2,457.6 2384.0,460.9 2380.3,467.1 2376.6,474.5 2371.6,479.5 2367.9,485.7 2363.0,487.7 2361.7,488.2 2356.8,483.2 2353.1,478.3 2348.1,480.7 2343.2,478.9 2342.0,479.3 2338.2,480.7 2334.5,482.9 2332.0,484.4 2329.5,484.9 2326.4,485.6 2325.8,485.7 2324.6,489.4 2324.0,493.3 2322.7,501.6 2322.1,505.5 2320.9,507.6 2317.2,514.2 2315.9,515.8 2312.2,520.4 2304.8,526.5 2300.0,529.7 2299.8,529.8 2298.6,530.6 2296.1,532.2 2294.0,533.5 2292.4,534.5 2291.1,535.9 2290.0,537.1 2288.9,538.3 2287.7,544.6 2286.6,550.3 2286.2,550.5 2285.0,551.2 2284.9,551.2 2283.7,551.9 2281.4,553.1 2279.1,555.5 2276.9,557.7 2274.6,565.7 2272.3,571.2 2271.7,572.6 2268.9,567.8 2267.7,565.7 2266.6,562.4 2265.4,558.7 2264.3,555.4 2261.4,557.7 2260.9,561.7 2259.1,576.0 2257.4,569.2 2255.7,562.3 2255.1,564.0 2252.9,570.3 2246.0,570.3 2244.9,570.3 2243.1,573.2 2241.4,576.0 2240.3,578.5 2236.9,586.3 2231.1,589.7 2227.7,586.9 2226.6,587.3 2224.3,588.0 2223.1,589.3 2218.6,594.3 2212.3,599.5 2211.7,600.0 2210.6,602.6 2209.4,605.4 2208.3,608.0 2202.6,610.9 2201.4,611.4 2195.7,613.8 2194.6,614.3 2193.4,613.3 2191.1,611.3 2190.0,610.3 2187.7,611.0 2182.0,612.6 2178.6,615.3 2176.3,617.1 2172.9,618.0 2167.1,619.4 2164.9,619.1 2159.1,618.3 2153.4,621.7 2150.0,616.0 2147.5,614.4 2142.4,615.9 2140.7,616.4 2140.5,616.5 2139.8,615.8 2137.2,613.1 2136.8,613.2 2136.4,613.4 2133.8,614.2 2132.1,614.8 2128.7,617.0 2124.4,620.9 2123.5,621.7 2119.3,622.1 2115.0,622.5 2112.4,623.8 2109.0,625.5 2108.1,625.0 2104.7,623.2 2099.5,620.5 2094.4,622.6 2093.5,621.4 2091.8,619.0 2089.3,611.8 2084.1,610.8 2077.3,609.6 2071.3,608.4 2066.1,611.6 2063.6,611.5 2058.5,611.4 2058.4,611.4 2058.0,610.9 2057.1,609.9 2056.0,608.7" fill="url(#gO)"/>
<polyline points="121.8,866.4 154.5,867.8" fill="none" stroke="#3a6cd7" stroke-width="4" stroke-linejoin="round" stroke-linecap="butt"/>
<polyline points="293.6,867.8 479.1,867.8 492.7,865.8 507.3,863.6 520.0,863.4 547.3,863.3 580.0,860.5 638.2,860.5 701.8,861.5 774.5,862.2 829.1,863.1 865.5,862.2 876.4,860.9 883.6,856.4 901.8,856.4 938.2,855.1 945.5,853.1 978.0,852.7 985.6,849.8 1002.7,847.9 1054.0,846.6 1076.9,845.7 1100.6,843.2 1122.5,842.2 1130.1,844.1 1143.4,842.2 1168.1,842.2 1225.1,840.3 1272.6,837.9 1282.1,838.8 1301.1,836.9 1320.1,836.5 1329.6,835.0 1343.0,836.5 1354.4,836.0 1373.4,834.6 1380.0,834.8 1397.9,832.3 1405.8,829.8 1411.7,824.9 1422.6,824.4 1428.6,813.5 1433.6,811.5 1442.5,804.1 1448.4,803.1 1452.4,806.0 1458.3,801.6 1465.3,799.6 1472.2,807.0 1488.1,809.0 1493.1,814.5 1508.9,815.5 1540.7,815.5 1548.6,813.5 1557.5,811.0 1563.5,810.7 1573.4,813.5 1588.3,816.3 1594.2,816.6 1598.2,811.0 1601.2,804.1 1613.1,805.5 1615.5,797.6 1616.5,779.0 1618.7,776.0 1622.0,757.3 1624.7,754.0 1628.0,754.7 1634.0,758.0 1640.0,757.6 1648.0,758.7 1651.3,753.3 1654.7,741.3 1657.6,729.3 1661.3,728.7 1669.3,723.3 1677.3,724.0 1683.3,718.0 1694.7,718.0 1698.7,702.7 1705.3,702.0 1710.7,696.7 1716.0,694.4 1723.0,695.4 1727.2,696.0 1741.9,693.9 1748.2,692.5 1762.8,691.2 1767.0,689.3 1777.5,689.7 1788.0,691.2 1792.1,689.7 1801.6,689.7 1807.9,684.5 1813.1,684.5 1825.7,685.1 1830.9,689.1 1834.0,688.7 1837.2,684.5 1846.6,684.5 1853.9,683.5 1856.0,686.6 1859.2,703.4 1862.3,706.1 1865.4,717.0 1873.8,718.0 1878.0,727.4 1882.2,729.5 1889.5,725.3 1894.2,731.6 1898.4,726.0 1904.7,724.7 1909.9,722.6 1913.0,722.2 1916.2,714.9 1921.4,713.4 1928.7,710.7 1940.3,710.7 1950.7,709.2 1953.9,717.0 1961.2,717.6 1968.5,718.4 1973.8,715.9 1982.1,714.2 1985.3,720.1 1993.7,720.1 1997.9,712.1 2005.2,711.7 2007.3,699.2 2010.4,687.6 2015.7,681.4 2020.9,680.3 2024.0,675.1 2036.6,675.1 2046.0,673.4 2049.2,676.1 2051.3,684.0 2055.1,684.0 2056.9,709.3 2063.0,707.8 2067.4,704.9 2081.8,703.5 2092.0,705.7 2093.4,720.1 2105.0,718.0 2109.3,720.1 2113.7,718.7 2122.4,719.4 2128.2,716.5 2137.6,714.8 2140.5,720.1 2149.1,718.0 2152.8,725.9 2157.1,725.2 2164.3,724.5 2170.1,728.5 2177.4,728.5 2181.7,726.6 2194.7,727.4 2209.2,727.4 2219.3,725.6 2222.2,722.3 2225.9,719.4 2230.9,723.0 2236.7,723.0 2242.5,717.2 2245.4,715.5 2249.7,718.0 2254.1,723.0 2261.3,725.2 2268.6,723.0 2272.9,716.5 2275.8,715.1 2278.7,715.8 2281.6,712.2 2284.5,712.9 2287.4,699.9 2293.2,696.2 2298.2,691.2 2307.6,692.6 2314.9,690.5 2317.8,686.8 2321.4,686.8 2323.6,665.1 2327.9,664.4 2338.0,663.0 2343.8,658.6 2351.1,657.9 2358.3,651.4 2368.4,648.5 2372.0,639.8 2380.0,634.0 2384.3,628.2 2386.5,625.3 2390.0,624.6" fill="none" stroke="#3a6cd7" stroke-width="4" stroke-linejoin="round" stroke-linecap="butt"/>
<polyline points="109.1,844.8 116.4,842.7 121.8,841.7 136.4,843.0 163.6,843.4 190.9,843.6 209.1,842.7 250.9,843.6 254.5,842.7" fill="none" stroke="#e0386a" stroke-width="4" stroke-linejoin="round" stroke-linecap="butt"/>
<polyline points="254.5,842.7 254.6,843.4 281.8,843.8 318.2,844.7 354.5,844.1 390.9,844.1 427.3,844.9 479.0,844.1 479.1,844.3 479.3,844.8" fill="none" stroke="#e0386a" stroke-width="4" stroke-linejoin="round" stroke-linecap="butt"/>
<polyline points="1100.6,819.3 1101.0,819.4 1122.5,818.6 1130.1,820.5 1143.4,818.1 1151.0,820.0 1168.1,817.7 1225.1,815.2 1272.6,811.8 1282.1,812.9 1301.1,809.5 1320.1,809.1 1329.6,806.7 1343.0,808.6 1354.4,808.6 1373.4,805.8 1380.0,806.0 1399.8,803.8 1405.8,801.3 1411.7,797.4 1422.6,796.9 1428.6,786.5 1433.6,784.0 1442.5,776.5 1448.4,776.0 1452.4,777.5 1458.3,774.1 1465.3,771.6 1473.2,778.5 1487.1,779.5 1493.1,784.5 1508.9,784.5 1540.7,784.0 1548.6,782.0 1557.5,778.0 1563.5,778.0 1573.4,781.0 1588.3,783.0 1594.2,784.0 1598.2,777.0 1601.2,770.1 1613.3,769.6 1616.0,756.5 1617.3,742.5 1620.0,739.2 1622.0,721.9 1624.7,719.2 1632.0,721.2 1640.0,720.8 1649.3,723.9 1652.0,716.5 1655.3,700.5 1658.0,691.2 1662.7,690.1 1668.0,684.3 1674.7,683.2 1680.0,679.9 1684.0,676.8 1694.7,676.8 1698.0,664.5 1700.0,662.9 1701.3,662.0 1706.7,661.8 1710.0,657.4 1715.0,655.7 1716.0,655.3 1722.7,655.3 1725.3,649.3 1727.5,648.5 1728.0,654.3 1731.4,653.0 1738.7,651.4 1744.0,649.3 1744.5,649.3 1745.0,651.7 1749.2,651.7 1754.5,653.8 1761.8,653.8 1767.0,651.2 1776.5,651.7 1777.0,647.1 1777.5,647.1 1788.0,647.5 1795.0,646.9 1798.4,646.6 1804.7,643.0 1808.9,641.4 1815.2,642.2 1825.7,641.6 1830.9,644.7 1834.0,643.5 1837.2,639.4 1841.0,638.9 1846.6,638.3 1853.9,638.1 1856.0,641.7 1858.7,659.0 1861.3,665.7 1862.0,667.3 1865.4,671.8 1868.0,670.8 1870.0,669.9 1874.0,674.0 1878.0,680.8 1883.3,683.5 1890.0,681.7 1894.0,687.1 1899.3,679.1 1902.0,671.7 1906.0,667.1 1908.7,664.6 1911.3,666.3 1915.3,660.9 1923.3,657.8 1930.0,655.4 1936.0,653.9 1940.0,653.1 1946.7,652.6 1950.0,651.4 1953.3,655.2 1955.3,657.2 1963.3,657.0 1970.0,656.6 1974.0,655.2 1978.0,652.9 1980.0,650.2 1981.3,648.8 1983.3,650.4 1986.0,656.4 1990.0,658.3 1992.0,658.3 1994.7,654.7 1996.7,649.5 2000.0,647.5 2003.0,647.7 2005.3,647.7 2007.9,628.8 2008.3,632.1 2011.5,620.6 2012.1,619.9 2015.7,615.4 2016.4,614.9 2019.9,612.7 2020.9,612.0 2021.6,610.9 2024.1,607.1 2026.7,607.1 2031.8,607.1 2038.7,604.1 2039.6,603.7 2041.3,601.6 2043.0,599.6 2043.8,598.6 2045.6,589.0 2046.4,584.8 2049.0,590.8 2049.8,592.6 2051.6,595.4 2054.1,599.4 2055.0,612.5 2055.4,618.3 2057.1,619.7 2058.0,620.5 2058.4,620.8 2063.6,620.0 2066.1,620.8 2071.3,615.7 2077.3,617.4 2084.1,618.4 2089.3,619.1 2091.8,626.8 2093.5,629.1 2094.4,630.3 2099.5,627.7 2104.7,630.3 2108.1,632.0 2109.0,632.4 2112.4,630.7 2115.0,629.4 2119.3,629.6 2123.5,629.8 2124.4,629.0 2128.7,625.1 2133.8,622.8 2136.4,621.7 2136.8,622.4 2139.8,627.7 2140.7,627.6 2142.4,627.4 2147.5,626.8 2150.0,626.3 2153.4,632.6 2159.1,628.6 2164.9,630.6 2167.1,631.4 2172.9,630.3 2176.3,629.7 2178.6,627.4 2182.0,624.0 2187.7,623.2 2190.0,622.9 2191.1,624.1 2193.4,626.7 2194.6,628.0 2195.7,627.9 2201.4,627.5 2202.6,627.4 2208.3,624.0 2209.4,623.4 2210.6,622.9 2212.3,622.1 2218.6,619.4 2223.1,614.0 2224.3,612.6 2226.6,612.2 2227.7,612.0 2231.1,616.0 2236.9,613.1 2240.3,604.9 2241.4,602.3 2243.1,599.5 2244.9,596.6 2246.0,596.4 2252.9,595.4 2255.1,590.1 2255.7,588.6 2257.4,595.5 2259.1,602.3 2260.9,584.0 2261.4,583.5 2264.3,580.5 2265.4,579.4 2266.6,577.7 2268.9,574.3 2271.7,576.6 2272.3,577.1 2274.6,565.7 2276.9,564.0 2279.1,562.3 2281.4,561.8 2283.7,561.3 2284.9,561.1 2285.0,561.2 2286.2,562.2 2287.7,563.4 2290.0,548.6 2291.1,548.0 2294.0,546.3 2296.1,544.3 2298.6,542.0 2299.8,541.2 2304.8,537.7 2312.2,532.7 2315.9,528.1 2317.2,526.5 2320.9,520.9 2322.1,519.1 2322.7,515.8 2324.0,508.8 2324.6,505.5 2326.4,503.6 2329.5,503.3 2332.0,503.0 2334.5,502.0 2338.2,500.5 2343.2,499.3 2348.1,501.2 2353.1,500.5 2356.8,505.5 2361.7,509.5 2363.0,510.5 2367.9,508.0 2371.6,499.3 2376.6,494.3 2380.3,486.9 2384.0,482.0 2386.2,479.2 2390.0,478.6" fill="none" stroke="#e0386a" stroke-width="4" stroke-linejoin="round" stroke-linecap="butt"/>
<polyline points="1100.6,819.1 1122.5,818.2 1130.1,820.1 1143.4,817.8 1151.0,819.6 1168.1,817.4 1225.1,814.9 1272.6,811.5 1282.1,812.6 1301.1,809.1 1320.1,808.8 1329.6,806.4 1343.0,808.2 1354.4,808.2 1373.4,805.5 1380.0,805.6 1399.8,803.5 1405.8,801.0 1411.7,797.1 1422.6,796.6 1428.6,786.1 1433.6,783.6 1442.5,776.1 1448.4,775.6 1452.4,777.1 1458.3,773.8 1465.3,771.2 1473.2,778.1 1487.1,779.1 1493.1,784.1 1508.9,784.1 1540.7,783.6 1548.6,781.6 1557.5,777.6 1563.5,777.6 1573.4,780.6 1588.3,782.6 1594.2,783.6 1598.2,776.6 1601.2,769.8 1613.3,769.2 1616.0,756.1 1617.3,742.1 1620.0,738.9 1622.0,721.6 1624.7,718.9 1632.0,720.9 1640.0,720.5 1649.3,723.6 1652.0,716.1 1655.3,700.1 1658.0,690.9 1662.7,689.8 1668.0,684.0 1674.7,682.9 1680.0,679.6 1684.0,676.5 1694.7,676.5 1698.0,664.1 1700.0,662.6 1701.3,661.6 1706.7,661.2 1710.0,656.6 1715.0,654.7 1716.0,654.3 1722.7,654.3 1725.3,648.3 1727.5,647.5 1728.0,653.0 1731.4,651.7 1738.7,650.1 1744.0,648.0 1744.5,648.0 1745.0,650.0 1749.2,650.0 1754.5,652.1 1761.8,652.1 1767.0,649.5 1776.5,650.0 1777.0,646.0 1777.5,646.0 1788.0,646.4 1795.0,645.9 1798.4,645.6 1804.7,641.9 1808.9,640.3 1815.2,641.1 1825.7,640.4 1830.9,643.4 1834.0,642.3 1837.2,638.1 1841.0,637.6 1846.6,637.0 1853.9,636.8 1856.0,640.4 1858.7,657.6 1861.3,664.2 1862.0,665.8 1865.4,670.3 1868.0,669.2 1870.0,668.3 1874.0,672.3 1878.0,679.0 1883.3,681.6 1890.0,679.6 1894.0,684.9 1899.3,676.7 1902.0,669.2 1906.0,664.4 1908.7,661.9 1911.3,663.5 1915.3,658.1 1923.3,654.8 1930.0,652.1 1936.0,650.5 1940.0,649.7 1946.7,649.1 1950.0,647.9 1953.3,651.7 1955.3,653.7 1963.3,653.5 1970.0,653.0 1974.0,651.9 1978.0,649.8 1981.3,645.5 1983.3,646.6 1986.0,651.9 1990.0,652.8 1992.0,652.9 1994.7,649.3 1996.7,644.1 2000.0,642.2 2003.0,642.4 2005.3,642.3 2007.9,622.9 2012.1,613.5 2016.4,608.1 2019.9,605.4 2021.6,603.5 2024.1,599.4 2026.7,599.4 2031.8,599.4 2038.7,596.8 2039.6,596.5 2041.3,594.3 2043.0,592.0 2043.8,591.0 2045.6,582.0 2046.4,578.0 2049.0,583.4 2049.8,585.0 2051.6,587.1 2054.1,590.0 2055.0,602.5 2055.4,608.0 2057.1,609.9 2058.0,610.9 2058.4,611.4 2063.6,611.5 2066.1,611.6 2071.3,608.4 2077.3,609.6 2084.1,610.8 2089.3,611.8 2091.8,619.0 2093.5,621.4 2094.4,622.6 2099.5,620.5 2104.7,623.2 2108.1,625.0 2109.0,625.5 2112.4,623.8 2115.0,622.5 2119.3,622.1 2123.5,621.7 2124.4,620.9 2128.7,617.0 2132.1,614.8 2133.8,614.2 2136.8,613.2 2137.2,613.1 2140.5,616.5 2140.7,616.4 2142.4,615.9 2147.5,614.4 2150.0,616.0 2153.4,621.7 2159.1,618.3 2164.9,619.1 2167.1,619.4 2172.9,618.0 2176.3,617.1 2178.6,615.3 2182.0,612.6 2187.7,611.0 2190.0,610.3 2191.1,611.3 2193.4,613.3 2194.6,614.3 2195.7,613.8 2201.4,611.4 2202.6,610.9 2208.3,608.0 2210.6,602.6 2211.7,600.0 2212.3,599.5 2218.6,594.3 2223.1,589.3 2224.3,588.0 2226.6,587.3 2227.7,586.9 2231.1,589.7 2236.9,586.3 2240.3,578.5 2241.4,576.0 2243.1,573.2 2244.9,570.3 2246.0,570.3 2252.9,570.3 2255.1,564.0 2255.7,562.3 2257.4,569.2 2259.1,576.0 2261.4,557.7 2264.3,555.4 2266.6,562.4 2267.7,565.7 2268.9,567.8 2271.7,572.6 2274.6,565.7 2276.9,557.7 2281.4,553.1 2283.7,551.9 2285.0,551.2 2286.2,550.5 2286.6,550.3 2288.9,538.3 2291.1,535.9 2292.4,534.5 2296.1,532.2 2298.6,530.6 2299.8,529.8 2304.8,526.5 2312.2,520.4 2315.9,515.8 2317.2,514.2 2320.9,507.6 2322.1,505.5 2322.7,501.6 2324.0,493.3 2324.6,489.4 2325.8,485.7 2329.5,484.9 2332.0,484.4 2334.5,482.9 2338.2,480.7 2343.2,478.9 2348.1,480.7 2353.1,478.3 2356.8,483.2 2361.7,488.2 2367.9,485.7 2371.6,479.5 2376.6,474.5 2380.3,467.1 2384.0,460.9 2386.2,457.6 2390.0,457.0" fill="none" stroke="#66ad5b" stroke-width="4" stroke-linejoin="round" stroke-linecap="butt"/>
<polyline points="1100.6,818.7 1122.5,817.9 1130.1,819.8 1143.4,817.4 1151.0,819.3 1168.1,817.0 1225.1,814.5 1272.6,811.1 1282.1,812.2 1301.1,808.8 1320.1,808.4 1329.6,806.0 1343.0,807.9 1354.4,807.9 1373.4,805.1 1380.0,805.3 1399.8,803.1 1405.8,800.6 1411.7,796.7 1422.6,796.2 1428.6,785.8 1433.6,783.3 1442.5,775.8 1448.4,775.3 1452.4,776.8 1458.3,773.4 1465.3,770.9 1473.2,777.8 1487.1,778.8 1493.1,783.8 1508.9,783.8 1540.7,783.3 1548.6,781.3 1557.5,777.3 1563.5,777.3 1573.4,780.3 1588.3,782.3 1594.2,783.3 1598.2,776.3 1601.2,769.4 1613.3,768.9 1616.0,755.8 1617.3,741.8 1620.0,738.5 1622.0,721.2 1624.7,718.5 1632.0,720.5 1640.0,720.1 1649.3,723.2 1652.0,715.8 1655.3,699.8 1658.0,690.5 1662.7,689.4 1668.0,683.6 1674.7,682.5 1680.0,679.2 1684.0,676.1 1694.7,676.1 1698.0,663.8 1700.0,662.2 1701.3,661.2 1706.7,660.5 1710.0,655.9 1715.0,653.7" fill="none" stroke="#f5a033" stroke-width="4" stroke-linejoin="round" stroke-linecap="butt"/>
<polyline points="1715.0,653.7 1716.0,653.3 1722.7,653.3 1725.3,647.3 1727.5,646.5 1728.0,652.0 1731.4,650.7 1738.7,649.1 1744.0,647.0 1744.5,647.0 1745.0,648.7 1749.2,648.7 1754.5,650.8 1761.8,650.8 1767.0,648.2 1776.5,648.7 1777.0,644.3 1777.5,644.3 1788.0,644.7 1795.0,644.2 1798.4,643.9 1804.7,640.2 1808.9,638.6 1815.2,639.4 1825.7,638.7 1830.9,641.7 1834.0,640.6 1837.2,636.4 1841.0,635.9 1846.6,635.3 1853.9,635.1 1856.0,638.7 1858.7,655.7 1861.3,662.3 1862.0,663.8 1865.4,668.3 1868.0,667.2 1870.0,666.3 1874.0,670.3 1878.0,677.0 1883.3,679.6 1890.0,677.6 1894.0,682.7 1899.3,674.4 1902.0,666.8 1906.0,662.0 1908.7,659.4 1911.3,660.9 1915.3,655.4 1923.3,651.8 1930.0,649.0 1936.0,647.2 1940.0,646.4 1946.7,645.8 1950.0,644.5 1953.3,648.3 1955.3,650.3 1963.3,650.1 1970.0,649.6 1974.0,648.3 1978.0,646.0 1981.3,641.5 1983.3,642.5 1986.0,647.6 1990.0,648.3 1992.0,648.4 1994.7,644.9 1996.7,639.7 2000.0,637.8 2003.0,638.1 2005.3,638.1 2007.9,615.4 2008.3,614.7 2011.5,608.8 2012.1,607.7 2015.7,604.4 2016.4,603.8 2019.9,600.8 2020.9,597.8 2021.6,595.7 2024.1,594.2 2026.7,592.7 2031.8,594.0 2038.7,592.3 2039.6,590.8 2041.3,588.0 2043.0,575.1 2043.8,574.3 2045.6,572.6 2046.4,572.8 2049.0,573.4 2049.8,575.2 2051.6,579.4 2054.1,580.6 2055.0,581.1 2055.4,583.1 2056.0,586.0 2057.1,590.7 2058.0,600.5 2058.4,600.3 2058.5,600.3 2063.6,601.1 2066.1,601.5 2071.3,598.5 2077.3,599.3 2084.1,598.3 2089.3,598.7 2091.8,598.9 2093.5,610.5 2094.4,610.2 2099.5,608.3 2104.7,611.3 2108.1,613.9 2109.0,613.0 2112.4,609.6 2115.0,609.4 2119.3,609.2 2123.5,608.1 2124.4,607.9 2128.7,605.3 2132.1,602.8 2133.8,601.5 2136.4,602.6 2136.8,602.8 2137.2,603.1 2139.8,605.4 2140.5,606.0 2140.7,606.2 2142.4,607.9 2147.5,603.2 2150.0,607.6 2153.4,612.2 2159.1,609.4 2164.9,608.8 2167.1,609.3 2172.9,610.5 2176.3,608.8 2178.6,607.6 2182.0,603.6 2187.7,603.6 2190.0,601.7 2191.1,600.8 2193.4,603.1 2194.6,603.8 2195.7,604.4 2201.4,602.5 2202.6,601.9 2208.3,599.1 2209.4,597.2 2210.6,595.1 2211.7,590.2 2212.3,587.6 2218.6,584.2 2223.1,578.5 2224.3,577.7 2226.6,576.2 2227.7,577.0 2231.1,579.6 2236.9,576.2 2240.3,569.9 2241.4,566.6 2243.1,561.4 2244.9,559.6 2246.0,558.5 2252.9,557.9 2255.1,552.2 2255.7,552.4 2257.4,552.8 2259.1,568.8 2260.9,553.6 2261.4,549.4 2264.3,547.1 2265.4,548.2 2266.6,549.4 2267.7,554.9 2268.9,560.8 2271.7,566.5 2272.3,564.8 2274.6,558.5 2276.9,552.8 2279.1,550.8 2281.4,548.8 2283.7,543.6 2284.9,542.4 2285.0,542.3 2286.2,531.1 2286.6,530.8 2287.7,530.0 2288.9,529.1 2290.0,528.2 2291.1,527.7 2292.4,526.8 2294.0,525.8 2296.1,524.3 2298.6,523.4 2299.8,522.9 2300.0,522.9 2304.8,519.4 2312.2,515.2 2315.9,507.3 2317.2,506.0 2320.9,502.4 2322.1,495.8 2322.7,492.5 2324.0,479.6 2324.6,479.3 2325.8,478.8 2326.4,478.6 2329.5,477.3 2332.0,477.0 2334.5,476.7 2338.2,474.4 2342.0,473.1 2343.2,472.6 2348.1,474.5 2353.1,471.4 2356.8,476.3 2361.7,480.7 2363.0,480.3 2367.9,478.8 2371.6,470.7 2376.6,467.0 2380.3,459.6 2384.0,453.4 2386.2,451.0 2390.0,450.5" fill="none" stroke="#f5a033" stroke-width="4" stroke-linejoin="round" stroke-linecap="butt"/>
<polyline points="1984.0,639.5 1986.0,643.2 1990.0,643.6 1992.0,643.7 1994.7,640.0 1996.7,634.8 2000.0,632.9 2003.0,633.1 2005.3,633.1 2007.9,610.4 2008.3,609.7 2011.5,603.8 2012.1,602.8 2015.7,599.5 2016.4,598.9 2019.9,595.9 2020.9,592.9 2021.6,590.8 2024.1,589.3 2026.7,587.8 2031.8,589.2 2038.7,587.5 2039.6,586.0 2041.3,583.2 2043.0,570.3 2043.8,569.6 2045.6,567.8 2046.4,568.0 2049.0,568.7 2049.8,570.5 2051.6,574.7 2054.1,575.9 2055.0,576.4 2055.4,578.4 2056.0,581.3 2057.1,586.3 2058.0,596.2 2058.4,596.1 2058.5,596.1 2063.6,596.9 2066.1,597.3 2071.3,594.3 2077.3,595.1 2084.1,594.1 2089.3,594.5 2091.8,594.7 2093.5,606.3 2094.4,606.0 2099.5,604.1 2104.7,607.1 2108.1,609.7 2109.0,608.8 2112.4,605.4 2115.0,605.2 2119.3,605.0 2123.5,603.9 2124.4,603.7 2128.7,601.1 2132.1,598.6 2133.8,597.3 2136.4,598.4 2136.8,598.6 2137.2,598.9 2139.8,601.2 2140.5,601.8 2140.7,602.0 2142.4,603.7 2147.5,599.0 2150.0,603.4 2153.4,608.0 2159.1,605.2 2164.9,604.6 2167.1,605.1 2172.9,606.3 2176.3,604.6 2178.6,603.4 2182.0,599.4 2187.7,599.4 2190.0,597.5 2191.1,596.6 2193.4,598.9 2194.6,599.6 2195.7,600.2 2201.4,598.3 2202.6,597.7 2208.3,594.9 2209.4,593.0 2210.6,590.9 2211.7,586.0 2212.3,583.4 2218.6,580.0 2223.1,574.3 2224.3,573.5 2226.6,572.0 2227.7,572.8 2231.1,575.4 2236.9,572.0 2240.3,565.7 2241.4,562.4 2243.1,557.2 2244.9,555.4 2246.0,554.3 2252.9,553.7 2255.1,548.0 2255.7,548.2 2257.4,548.6 2259.1,564.6 2260.9,549.4 2261.4,545.2 2264.3,542.9 2265.4,544.0 2266.6,545.2 2267.7,550.7 2268.9,556.6 2271.7,562.3 2272.3,560.6 2274.6,554.3 2276.9,548.6 2279.1,546.6 2281.4,544.6 2283.7,539.4 2284.9,538.2 2285.0,538.1 2286.2,526.9 2286.6,526.6 2287.7,525.8 2288.9,524.9 2290.0,524.0 2291.1,523.6 2292.4,522.8 2294.0,521.8 2296.1,520.6 2298.6,519.8 2299.8,519.4 2300.0,519.4 2304.8,515.9 2312.2,511.7 2315.9,503.8 2317.2,502.5 2320.9,498.9 2322.1,492.3 2322.7,489.0 2324.0,476.1 2324.6,475.8 2325.8,475.3 2326.4,475.1 2329.5,473.8 2332.0,473.5 2334.5,473.2 2338.2,470.9 2342.0,469.6 2343.2,469.1 2348.1,471.0 2353.1,467.9 2356.8,472.8 2361.7,477.2 2363.0,476.8 2367.9,475.3 2371.6,467.2 2376.6,463.5 2380.3,456.1 2384.0,449.9 2386.2,447.5 2390.0,447.0" fill="none" stroke="#9a30b8" stroke-width="4" stroke-linejoin="round" stroke-linecap="butt"/>
<polyline points="479.3,844.9 492.7,841.9 507.3,840.4 520.0,840.6 547.3,839.1 580.0,836.9 610.9,837.3 638.2,836.4 646.4,835.5 650.9,837.7 694.5,838.2 720.0,839.5 774.5,840.4 829.1,840.9 865.5,840.0 876.4,838.8 883.6,833.7 901.8,832.8 938.2,831.3 945.7,828.7 978.0,828.1 985.6,824.9 1016.0,823.3 1054.0,822.6 1076.9,822.0 1100.6,818.6" fill="none" stroke="#f5a033" stroke-width="4.4" stroke-linejoin="round" stroke-linecap="butt"/>
<polyline points="479.3,844.4 492.7,841.4 507.3,839.9 520.0,840.1 547.3,838.6 580.0,836.4 610.9,836.8 638.2,835.9 646.4,835.0 650.9,837.2 694.5,837.7 720.0,839.0 774.5,839.9 829.1,840.5 865.5,839.6 876.4,838.4 883.6,833.3 901.8,832.4 938.2,830.9 945.7,828.3 978.0,827.7 985.6,824.5 1016.0,822.9 1054.0,822.2 1076.9,821.6 1100.6,818.2 1122.5,817.4 1130.1,819.3 1143.4,816.9 1151.0,818.8 1168.1,816.5 1225.1,814.1 1250.0,812.3 1272.6,810.7 1282.1,811.7 1301.1,808.3 1320.1,807.9 1329.6,805.5 1343.0,807.3 1354.4,807.3 1373.4,804.5 1380.0,804.7 1399.8,802.4 1405.8,799.9 1411.7,796.0 1422.6,795.5 1428.6,785.1 1433.6,782.6 1442.5,775.0 1448.4,774.5 1452.4,776.0 1458.3,772.6 1465.3,770.1 1473.2,777.0 1487.1,778.0 1493.1,782.9 1508.9,782.9 1519.0,782.7 1540.7,782.4 1548.6,780.3 1557.5,776.3 1563.5,776.3 1573.4,779.3 1588.3,781.3 1594.2,782.2 1598.2,775.2 1601.2,768.3 1613.3,767.8 1616.0,754.7 1617.3,740.7 1620.0,737.4 1622.0,720.1 1624.7,717.4 1632.0,719.4 1640.0,718.9 1649.3,722.0 1652.0,714.6 1655.3,698.6 1658.0,689.3 1662.0,688.4" fill="none" stroke="#80371d" stroke-width="4.4" stroke-linejoin="round" stroke-linecap="butt"/>
<polyline points="479.3,841.4 492.7,838.4 507.3,836.9 520.0,837.1 547.3,835.6 580.0,833.4 610.9,833.8 638.2,832.9 646.4,832.0 650.9,834.2 694.5,834.7 720.0,836.0 774.5,836.9 829.1,837.4 865.5,836.5 876.4,835.3 883.6,830.2 901.8,829.3 938.2,827.8 945.7,825.2 978.0,824.6 985.6,821.4 1016.0,819.8 1054.0,819.1 1076.9,818.5 1100.6,815.1 1122.5,814.3 1130.1,816.2 1143.4,813.8 1151.0,815.7 1168.1,813.4 1225.1,810.9 1272.6,807.5 1282.1,808.6 1301.1,805.2 1320.1,804.8 1329.6,802.4 1343.0,804.3 1354.4,804.3 1373.4,801.5 1380.0,801.7 1399.8,799.5 1405.8,797.0 1411.7,793.1 1422.6,792.6 1428.6,782.2 1433.6,779.7 1442.5,772.2 1448.4,771.7 1452.4,773.2 1458.3,769.8 1465.3,767.3 1473.2,774.2 1487.1,775.2 1493.1,780.2 1508.9,780.2 1540.7,779.7 1548.6,777.7 1557.5,773.7 1563.5,773.7 1573.4,776.7 1588.3,778.7 1594.2,779.7 1598.2,772.7 1601.2,765.8 1613.3,765.3 1616.0,752.2 1617.3,738.2 1620.0,734.9 1622.0,717.6 1624.7,714.9 1632.0,716.9 1640.0,716.5 1649.3,719.6 1652.0,712.2 1655.3,696.2 1658.0,686.9 1662.7,685.8 1668.0,680.0 1674.7,678.9 1680.0,675.6 1684.0,672.5 1694.7,672.5 1698.0,660.2 1701.3,657.6 1706.7,656.9 1710.0,652.2 1716.0,649.6 1722.7,649.6 1725.3,643.6 1727.0,643.0" fill="none" stroke="#357a4a" stroke-width="1.1" stroke-linejoin="round" stroke-linecap="butt"/>
<polyline points="1681.0,676.9 1684.0,674.6 1694.7,674.6 1698.0,662.3 1701.3,659.7 1706.7,659.0 1710.0,654.3 1716.0,651.7 1722.7,651.7 1725.3,645.7 1727.7,644.8" fill="none" stroke="#80371d" stroke-width="4" stroke-linejoin="round" stroke-linecap="butt"/>
<polyline points="1744.7,646.4 1749.2,646.4 1754.5,648.5 1761.8,648.5 1767.0,645.9 1776.7,646.4" fill="none" stroke="#80371d" stroke-width="4" stroke-linejoin="round" stroke-linecap="butt"/>
<polyline points="2298.0,517.7 2298.6,517.3 2299.8,516.5 2304.8,512.8 2312.2,508.4 2315.9,500.4 2317.2,499.1 2320.9,495.4 2322.1,488.8 2322.7,485.5 2324.0,472.5 2324.6,472.2 2325.8,471.7 2326.4,471.5 2329.5,470.1 2332.0,469.8 2334.5,469.4 2338.2,467.0 2343.2,465.1 2348.1,467.0 2353.1,463.9 2356.8,468.8 2361.7,473.2 2363.0,472.8 2367.9,471.3 2371.6,463.2 2376.6,459.5 2380.3,452.1 2384.0,445.9 2386.2,443.5 2390.0,443.0" fill="none" stroke="#80371d" stroke-width="4" stroke-linejoin="round" stroke-linecap="butt"/>
<polyline points="1662.0,688.1 1662.7,687.9 1668.0,682.1 1674.7,681.0 1680.0,677.7 1681.0,676.9" fill="none" stroke="#5ebdf6" stroke-width="4" stroke-linejoin="round" stroke-linecap="butt"/>
<polyline points="1727.7,650.1 1731.4,648.7 1738.7,647.1 1744.0,645.0 1744.7,645.0" fill="none" stroke="#5ebdf6" stroke-width="4" stroke-linejoin="round" stroke-linecap="butt"/>
<polyline points="1776.7,642.2 1777.5,642.2 1788.0,642.7 1795.0,642.2 1798.4,641.9 1804.7,638.1 1808.9,636.5 1815.2,637.2 1825.7,636.5 1830.9,639.5 1834.0,638.3 1837.2,634.1 1841.0,633.6 1846.6,633.0 1853.9,632.8 1856.0,636.4 1858.7,652.9 1861.3,658.9 1862.0,660.3 1865.4,664.8 1868.0,663.8 1870.0,662.9 1874.0,666.8 1878.0,673.4 1883.3,675.9 1890.0,673.8 1894.0,678.9 1899.3,670.6 1902.0,663.0 1906.0,658.1 1908.7,655.5 1911.3,657.0 1915.3,651.4 1923.3,647.9 1930.0,645.0 1936.0,643.2 1940.0,642.3 1946.7,641.6 1950.0,640.3 1953.3,644.0 1955.3,646.0 1963.3,645.6 1970.0,645.0 1974.0,643.1 1978.0,640.1 1981.3,635.2 1983.3,635.8 1986.0,640.5 1990.0,640.6 1992.0,640.6 1994.7,636.8 1996.7,631.4 2000.0,629.4 2003.0,629.4 2005.3,629.4 2007.9,606.7 2008.3,606.0 2011.5,600.1 2012.1,599.1 2015.7,595.8 2016.4,595.2 2019.9,592.2 2020.9,589.2 2021.6,587.1 2024.1,585.6 2026.7,584.1 2031.8,585.5 2038.7,583.8 2039.6,582.3 2041.3,579.5 2043.0,566.6 2043.8,565.9 2045.6,564.1 2046.4,564.3 2049.0,565.0 2049.8,566.8 2051.6,571.0 2054.1,572.2 2055.0,572.7 2055.4,574.7 2056.0,577.6 2057.1,582.7 2058.0,592.8 2058.4,592.8 2058.5,592.8 2063.6,593.6 2066.1,594.0 2071.3,591.0 2077.3,591.8 2084.1,590.8 2089.3,591.2 2091.8,591.4 2093.5,603.0 2094.4,602.7 2099.5,600.8 2104.7,603.8 2108.1,606.4 2109.0,605.5 2112.4,602.1 2115.0,602.0 2119.3,601.8 2123.5,600.7 2124.4,600.5 2128.7,597.9 2132.1,595.3 2133.8,594.1 2136.4,595.2 2136.8,595.4 2137.2,595.7 2139.8,598.0 2140.5,598.6 2140.7,598.8 2142.4,600.5 2147.5,595.8 2150.0,600.2 2153.4,604.8 2159.1,602.0 2164.9,601.4 2167.1,601.9 2172.9,603.1 2176.3,601.4 2178.6,600.2 2182.0,596.2 2187.7,596.2 2190.0,594.3 2191.1,593.4 2193.4,595.7 2194.6,596.4 2195.7,597.0 2201.4,595.1 2202.6,594.5 2208.3,591.7 2209.4,589.8 2210.6,587.7 2211.7,582.9 2212.3,580.2 2218.6,576.8 2223.1,571.1 2224.3,570.4 2226.6,568.8 2227.7,569.7 2231.1,572.2 2236.9,568.9 2240.3,562.6 2241.4,559.2 2243.1,554.1 2244.9,552.3 2246.0,551.2 2252.9,550.6 2255.1,544.9 2255.7,545.0 2257.4,545.5 2259.1,561.5 2260.9,546.3 2261.4,542.1 2264.3,539.8 2265.4,540.9 2266.6,542.1 2267.7,547.5 2268.9,553.5 2271.7,559.2 2272.3,557.5 2274.6,551.2 2276.9,545.5 2279.1,543.5 2281.4,541.5 2283.7,536.3 2284.9,535.1 2285.0,535.0 2286.2,523.8 2286.6,523.5 2287.7,522.7 2288.9,521.8 2290.0,520.9 2291.1,520.2 2292.4,519.0 2294.0,517.6 2296.1,515.7 2298.6,514.2 2299.8,513.5 2300.0,513.4 2304.8,509.8 2312.2,505.4 2315.9,497.4 2317.2,496.1 2320.9,492.4 2322.1,485.8 2322.7,482.5 2324.0,469.5 2324.6,469.2 2325.8,468.7 2326.4,468.5 2329.5,467.1 2332.0,466.8 2334.5,466.4 2338.2,464.0 2343.2,462.1 2348.1,464.0 2353.1,460.9 2356.8,465.8 2361.7,470.2 2363.0,469.8 2367.9,468.3 2371.6,460.2 2376.6,456.5 2380.3,449.1 2384.0,442.9 2386.2,440.5 2390.0,440.0" fill="none" stroke="#5ebdf6" stroke-width="4" stroke-linejoin="round" stroke-linecap="butt"/>
<polyline points="1984.0,633.4 1986.0,636.9 1992.0,637.1 1994.7,633.4 1996.7,628.2 2000.0,626.2 2003.0,626.4 2005.3,626.4 2007.9,603.7 2008.3,603.0 2011.5,597.1 2012.1,596.0 2015.7,592.7 2016.4,592.1 2019.9,589.1 2020.9,586.1 2021.6,584.0 2024.1,582.5 2026.7,581.0 2031.8,582.3 2038.7,580.6 2039.6,579.1 2041.3,576.3 2043.0,563.4 2043.8,562.6 2045.6,560.9 2046.4,561.1 2049.0,561.7 2049.8,563.5 2051.6,567.7 2054.1,568.9 2055.0,569.4 2055.4,571.4 2057.1,579.7 2058.0,590.0 2058.4,590.1 2063.6,590.9 2066.1,591.3 2071.3,588.3 2077.3,589.1 2084.1,588.1 2089.3,588.5 2091.8,588.7 2093.5,600.3 2094.4,600.0 2099.5,598.1 2104.7,601.1 2108.1,603.7 2109.0,602.8 2112.4,599.4 2115.0,599.2 2119.3,599.0 2123.5,597.9 2124.4,597.7 2128.7,595.1 2132.1,592.6 2133.8,591.3 2136.4,592.4 2136.8,592.6 2137.2,592.9 2139.8,595.2 2140.5,595.8 2140.7,596.0 2142.4,597.7 2147.5,593.0 2150.0,597.4 2153.4,602.0 2159.1,599.2 2164.9,598.6 2167.1,599.1 2172.9,600.3 2176.3,598.6 2178.6,597.4 2182.0,593.4 2187.7,593.4 2190.0,591.5 2191.1,590.6 2193.4,592.9 2194.6,593.6 2195.7,594.2 2201.4,592.3 2202.6,591.7 2208.3,588.9 2209.4,587.0 2210.6,584.9 2211.7,580.0 2212.3,577.4 2218.6,574.0 2223.1,568.3 2224.3,567.5 2226.6,566.0 2227.7,566.8 2231.1,569.4 2236.9,566.0 2240.3,559.7 2241.4,556.4 2243.1,551.2 2244.9,549.4 2246.0,548.3 2252.9,547.7 2255.1,542.0 2255.7,542.2 2257.4,542.6 2259.1,558.6 2260.9,543.4 2261.4,539.2 2264.3,536.9 2265.4,538.0 2266.6,539.2 2267.7,544.7 2268.9,550.6 2271.7,556.3 2272.3,554.6 2274.6,548.3 2276.9,542.6 2279.1,540.6 2281.4,538.6 2283.7,533.4 2284.9,532.2 2285.0,532.1 2286.2,520.9 2286.6,520.6 2287.7,519.8 2288.9,518.9 2290.0,518.0 2291.1,517.2 2292.4,515.9 2294.0,514.4 2296.1,512.3 2298.6,510.6 2299.8,509.8 2304.8,506.1 2312.2,501.7 2315.9,493.7 2317.2,492.4 2320.9,488.7 2322.1,482.1 2322.7,478.8 2324.0,465.8 2324.6,465.5 2325.8,465.0 2326.4,464.8 2329.5,463.4 2332.0,463.1 2334.5,462.7 2338.2,460.3 2343.2,458.4 2348.1,460.3 2353.1,457.2 2356.8,462.1 2361.7,466.5 2363.0,466.1 2367.9,464.6 2371.6,456.5 2376.6,452.8 2380.3,445.4 2384.0,439.2 2386.2,436.8 2390.0,436.3" fill="none" stroke="#ec4d81" stroke-width="2.4" stroke-linejoin="round" stroke-linecap="butt"/>
<polyline points="1727.7,646.1 1731.4,644.7 1738.7,643.2 1744.0,641.2 1744.7,641.2 1745.0,641.4 1749.2,641.4 1754.5,643.5 1761.8,643.5 1767.0,640.9 1776.7,641.4 1777.0,638.9 1777.5,638.9 1788.0,639.4 1795.0,638.9 1798.4,638.6 1804.7,634.9 1808.9,633.3 1815.2,634.1 1825.7,633.4 1830.9,636.4 1834.0,635.3 1837.2,631.1 1841.0,630.6 1846.6,630.0 1853.9,629.8 1856.0,633.4 1858.7,649.7 1861.3,655.5 1862.0,656.8 1865.4,661.3 1868.0,660.2 1870.0,659.3 1874.0,663.2 1878.0,669.9 1883.3,672.4 1890.0,670.3 1894.0,675.4 1899.3,667.1 1902.0,659.5 1906.0,654.7 1908.7,652.1 1911.3,653.6 1915.3,648.1 1923.3,644.5 1930.0,641.7 1936.0,639.9 1940.0,639.0 1946.7,638.2 1950.0,636.8 1953.3,640.5 1955.3,642.5 1963.3,642.0 1970.0,641.3 1974.0,639.1 1978.0,635.9 1981.3,630.7 1983.3,631.2 1986.0,635.8 1990.0,635.6 1992.0,635.7 1994.7,632.2 1996.7,627.0 2000.0,625.1 2003.0,625.4 2005.3,625.4 2007.9,602.7 2008.3,602.0 2011.5,596.1 2012.1,595.0 2015.7,591.7 2016.4,591.1 2019.9,588.1 2020.9,585.1 2021.6,583.0 2024.1,581.5 2026.7,580.0 2031.8,581.3 2038.7,579.6 2039.6,578.1 2041.3,575.3 2043.0,562.4 2043.8,561.6 2045.6,559.9 2046.4,560.1 2049.0,560.7 2049.8,562.5 2051.6,566.7 2054.1,567.9 2055.0,568.4 2055.4,570.4 2056.0,573.3 2057.1,578.6 2058.0,588.8 2058.4,588.8 2058.5,588.8 2063.6,589.6 2066.1,590.0 2071.3,587.0 2077.3,587.8 2084.1,586.8 2089.3,587.2 2091.8,587.4 2093.5,599.0 2094.4,598.7 2099.5,596.8 2104.7,599.8 2108.1,602.4 2109.0,601.5 2112.4,598.1 2115.0,597.9 2119.3,597.7 2123.5,596.6 2124.4,596.4 2128.7,593.8 2132.1,591.3 2133.8,590.0 2136.4,591.1 2136.8,591.3 2137.2,591.6 2139.8,593.9 2140.5,594.5 2140.7,594.7 2142.4,596.4 2147.5,591.7 2150.0,596.1 2153.4,600.7 2159.1,597.9 2164.9,597.3 2167.1,597.8 2172.9,599.0 2176.3,597.3 2178.6,596.1 2182.0,592.1 2187.7,592.1 2190.0,590.2 2191.1,589.3 2193.4,591.6 2194.6,592.3 2195.7,592.9 2201.4,591.0 2202.6,590.4 2208.3,587.6 2209.4,585.7 2210.6,583.6 2211.7,578.7 2212.3,576.1 2218.6,572.7 2223.1,567.0 2224.3,566.2 2226.6,564.7 2227.7,565.5 2231.1,568.1 2236.9,564.7 2240.3,558.4 2241.4,555.1 2243.1,549.9 2244.9,548.1 2246.0,547.0 2252.9,546.4 2255.1,540.7 2255.7,540.9 2257.4,541.3 2259.1,557.3 2260.9,542.1 2261.4,537.9 2264.3,535.6 2265.4,536.7 2266.6,537.9 2267.7,543.4 2268.9,549.3 2271.7,555.0 2272.3,553.3 2274.6,547.0 2276.9,541.3 2279.1,539.3 2281.4,537.3 2283.7,532.1 2284.9,530.9 2285.0,530.8 2286.2,519.6 2286.6,519.3 2287.7,518.5 2288.9,517.6 2290.0,516.7 2291.1,515.9 2292.4,514.6 2294.0,513.1 2296.1,511.0 2298.6,509.3 2299.8,508.5 2304.8,504.8 2312.2,500.4 2315.9,492.4 2317.2,491.1 2320.9,487.4 2322.1,480.8 2322.7,477.5 2324.0,464.5 2324.6,464.2 2325.8,463.7 2326.4,463.5 2329.5,462.1 2332.0,461.8 2334.5,461.4 2338.2,459.0 2343.2,457.1 2348.1,459.0 2353.1,455.9 2356.8,460.8 2361.7,465.2 2363.0,464.8 2367.9,463.3 2371.6,455.2 2376.6,451.5 2380.3,444.1 2384.0,437.9 2386.2,435.5 2390.0,435.0" fill="none" stroke="#60e07b" stroke-width="3.2" stroke-linejoin="round" stroke-linecap="butt"/>
<polyline points="109.1,843.6 116.4,841.5 121.8,840.5 136.4,841.8 163.6,842.2 190.9,842.4 209.1,841.5 250.9,842.4 254.5,837.8 281.8,838.2 318.2,839.1 354.5,838.5 390.9,838.5 427.3,839.3 479.1,838.5 492.7,835.5 507.3,834.0 520.0,834.2 547.3,832.7 580.0,830.5 610.9,830.9 638.2,830.0 646.4,829.1 650.9,831.3 694.5,831.8 720.0,833.1 774.5,834.0 829.1,834.5 865.5,833.6 876.4,832.4 883.6,827.3 901.8,826.4 938.2,824.9 945.7,822.3 978.0,821.7 985.6,818.5 1016.0,816.9 1054.0,816.2 1076.9,815.6 1100.6,812.2" fill="none" stroke="#ca28f0" stroke-width="4.4" stroke-linejoin="round" stroke-linecap="butt"/>
<polyline points="1100.6,812.2 1122.5,811.4 1130.1,813.3 1143.4,810.9 1151.0,812.8 1168.1,810.5 1225.1,808.0 1272.6,804.6 1282.1,805.7 1301.1,802.3 1320.1,801.9 1329.6,799.5 1343.0,801.4 1354.4,801.4 1373.4,798.6 1380.0,798.8 1399.8,796.6 1405.8,794.1 1411.7,790.2 1422.6,789.7 1428.6,779.3 1433.6,776.8 1442.5,769.3 1448.4,768.8 1452.4,770.3 1458.3,766.9 1465.3,764.4 1473.2,771.3 1487.1,772.3 1493.1,777.3 1508.9,777.3 1540.7,776.8 1548.6,774.8 1557.5,770.8 1563.5,770.8 1573.4,773.8 1588.3,775.8 1594.2,776.8 1598.2,769.8 1601.2,762.9 1613.3,762.4 1616.0,749.3 1617.3,735.3 1620.0,732.0 1622.0,714.7 1624.7,712.0 1632.0,714.0 1640.0,713.6 1649.3,716.7 1652.0,709.3 1655.3,693.3 1658.0,684.0 1662.7,682.9 1668.0,677.1 1674.7,676.0 1680.0,672.7 1684.0,669.6 1694.7,669.6 1698.0,657.3 1701.3,654.7 1706.7,654.0 1710.0,649.3 1716.0,646.7 1722.7,646.7 1725.3,640.7 1731.4,638.4 1738.7,636.8 1744.0,634.7 1749.2,634.7 1754.5,636.8 1761.8,636.8 1767.0,634.2 1777.5,634.7 1788.0,635.3 1798.4,634.7 1804.7,631.1 1808.9,629.6 1815.2,630.5 1825.7,630.1 1830.9,633.2 1834.0,632.1 1837.2,628.0 1846.6,626.9 1853.9,626.5 1856.0,630.1 1858.7,644.7 1861.3,648.9 1865.4,654.1 1870.0,652.0 1874.0,656.0 1878.0,662.7 1883.3,665.3 1890.0,663.3 1894.0,668.7 1899.3,660.7 1902.0,653.3 1906.0,648.7 1908.7,646.3 1911.3,648.0 1915.3,642.7 1923.3,639.7 1930.0,637.3 1940.0,635.0 1946.7,634.3 1950.0,633.0 1953.3,636.7 1955.3,638.7 1963.3,638.3 1970.0,637.7 1974.0,635.7 1978.0,632.7 1981.3,627.7 1983.3,628.3 1986.0,633.0 1992.0,633.0 1993.3,631.2" fill="none" stroke="#8c7d6e" stroke-width="4.6" stroke-linejoin="round" stroke-linecap="butt"/>
<polyline points="1993.3,631.2 1994.7,629.3 1996.7,624.0 2000.0,622.0 2005.3,622.1 2007.9,599.4 2012.1,591.7 2016.4,587.8 2019.9,584.8 2021.6,579.7 2026.7,576.7 2031.8,578.0 2038.7,576.3 2041.3,572.0 2043.0,559.1 2045.6,556.6 2049.0,557.4 2051.6,563.4 2055.0,565.1 2057.1,575.4 2058.0,585.7 2063.6,586.6 2066.1,587.0 2071.3,584.0 2077.3,584.8 2084.1,583.8 2091.8,584.4 2093.5,596.0 2099.5,593.8 2104.7,596.8 2108.1,599.4 2112.4,595.1 2119.3,594.7 2124.4,593.4 2128.7,590.8 2133.8,587.0 2136.8,588.3 2137.2,588.6" fill="none" stroke="#ca28f0" stroke-width="4.4" stroke-linejoin="round" stroke-linecap="butt"/>
<polyline points="2137.2,588.6 2140.7,591.7 2142.4,593.4 2147.5,588.7 2150.0,593.1 2153.4,597.7 2159.1,594.9 2164.9,594.3 2172.9,596.0 2178.6,593.1 2182.0,589.1 2187.7,589.1 2191.1,586.3 2193.2,588.4" fill="none" stroke="#f07a42" stroke-width="4.4" stroke-linejoin="round" stroke-linecap="butt"/>
<polyline points="2193.2,588.4 2193.4,588.6 2195.7,589.9 2201.4,588.0 2208.3,584.6 2210.6,580.6 2212.3,573.1 2218.6,569.7 2223.1,564.0 2226.6,561.7 2231.1,565.1 2236.9,561.7 2240.3,555.4 2243.1,546.9 2246.0,544.0 2252.9,543.4 2255.1,537.7 2257.4,538.3 2259.1,554.3 2261.4,534.9 2264.3,532.6 2266.6,534.9 2268.9,546.3 2271.7,552.0 2274.6,544.0 2276.9,538.3 2281.4,534.3 2283.7,529.1 2285.0,527.8 2286.2,516.6 2291.1,512.9 2296.1,508.0 2298.6,506.3" fill="none" stroke="#f5d54e" stroke-width="4.4" stroke-linejoin="round" stroke-linecap="butt"/>
<polyline points="2298.6,506.3 2299.8,505.5 2304.8,501.8 2312.2,497.4 2315.9,489.4 2320.9,484.4 2322.7,474.5 2324.0,461.5 2329.5,459.1 2334.5,458.4 2338.2,456.0 2343.2,454.1 2348.1,456.0 2353.1,452.9 2356.8,457.8 2361.7,462.2 2367.9,460.3 2371.6,452.2 2376.6,448.5 2380.3,441.1 2384.0,434.9 2386.2,432.5 2390.0,432.0" fill="none" stroke="#8c7d6e" stroke-width="4.6" stroke-linejoin="round" stroke-linecap="butt"/></g>
<rect x="109" y="868.0" width="2278" height="2" fill="#56575a"/>
<rect x="326" y="868.0" width="2" height="9.6" fill="#f4f4f4"/>
<rect x="702" y="868.0" width="2" height="9.6" fill="#f4f4f4"/>
<rect x="1074" y="868.0" width="2" height="9.6" fill="#f4f4f4"/>
<rect x="1450" y="868.0" width="2" height="9.6" fill="#f4f4f4"/>
<rect x="1820" y="868.0" width="2" height="9.6" fill="#f4f4f4"/>
<rect x="2196" y="868.0" width="2" height="9.6" fill="#f4f4f4"/>
</svg>
<!-- data zoom slider -->
<svg class="abs" style="left:20px;top:930px" width="2390" height="95" viewBox="20 930 2390 95">
<rect x="41" y="954" width="2349" height="58" fill="#111214"/>
<path d="M39.5,953 V944 Q39.5,940 43.5,940 H2387.7 Q2391.7,940 2391.7,944 V953 Z" fill="#434446"/>
<rect x="1210" y="943.7" width="2.1" height="6.6" fill="#fff"/><rect x="1214.5" y="943.7" width="2.1" height="6.6" fill="#fff"/><rect x="1219" y="943.7" width="2.1" height="6.6" fill="#fff"/>
<polygon points="52.0,1011.0 52.0,1000.7 85.8,1000.9 85.8,1011.0" fill="#41434e"/>
<polyline points="52.0,1011.0 52.0,1000.7 85.8,1000.9 85.8,1011.0" fill="none" stroke="#6a73a2" stroke-width="1"/>
<polygon points="229.6,1011.0 229.6,1000.9 421.3,1000.9 435.4,1000.6 450.5,1000.3 463.6,1000.3 491.8,1000.3 525.6,999.9 585.8,999.9 651.5,1000.0 726.6,1000.1 783.1,1000.3 820.7,1000.1 832.0,999.9 839.4,999.3 858.2,999.3 895.8,999.1 903.4,998.8 937.0,998.8 944.8,998.3 962.5,998.1 1015.5,997.9 1039.2,997.8 1063.7,997.4 1086.3,997.3 1094.2,997.5 1107.9,997.3 1133.5,997.3 1192.4,997.0 1241.5,996.6 1251.3,996.8 1270.9,996.5 1290.6,996.4 1300.4,996.2 1314.2,996.4 1326.0,996.4 1345.7,996.2 1352.5,996.2 1371.0,995.8 1379.1,995.5 1385.2,994.8 1396.5,994.7 1402.7,993.1 1407.9,992.8 1417.1,991.8 1423.2,991.6 1427.3,992.1 1433.4,991.4 1440.6,991.1 1447.8,992.2 1464.2,992.5 1469.4,993.3 1485.7,993.4 1518.6,993.4 1526.7,993.1 1535.9,992.8 1542.1,992.7 1552.4,993.1 1567.8,993.5 1573.9,993.6 1578.0,992.8 1581.1,991.8 1593.4,992.0 1595.9,990.8 1596.9,988.2 1599.2,987.7 1602.6,985.1 1605.4,984.6 1608.8,984.7 1615.0,985.2 1621.2,985.1 1629.5,985.3 1632.9,984.5 1636.4,982.8 1639.4,981.0 1643.2,981.0 1651.5,980.2 1659.8,980.3 1666.0,979.4 1677.7,979.4 1681.9,977.2 1688.7,977.1 1694.3,976.4 1699.8,976.0 1707.0,976.2 1711.3,976.3 1726.5,976.0 1733.0,975.8 1748.1,975.6 1752.5,975.3 1763.3,975.3 1774.2,975.6 1778.4,975.3 1788.2,975.3 1794.8,974.6 1800.1,974.6 1813.2,974.7 1818.5,975.3 1821.7,975.2 1825.0,974.6 1834.8,974.6 1842.3,974.5 1844.5,974.9 1847.8,977.3 1851.0,977.7 1854.2,979.3 1862.9,979.4 1867.2,980.8 1871.5,981.1 1879.1,980.5 1884.0,981.4 1888.3,980.6 1894.8,980.4 1900.2,980.1 1903.4,980.0 1906.7,979.0 1912.1,978.8 1919.6,978.4 1931.6,978.4 1942.4,978.1 1945.7,979.3 1953.2,979.4 1960.7,979.5 1966.2,979.1 1974.8,978.9 1978.1,979.7 1986.8,979.7 1991.1,978.6 1998.7,978.5 2000.9,976.7 2004.1,975.0 2009.5,974.2 2014.9,974.0 2018.1,973.3 2031.1,973.3 2040.9,973.0 2044.2,973.4 2046.3,974.5 2050.3,974.5 2052.1,978.2 2058.4,977.9 2063.0,977.5 2077.9,977.3 2088.4,977.6 2089.8,979.7 2101.8,979.4 2106.3,979.7 2110.8,979.5 2119.8,979.6 2125.8,979.2 2135.5,979.0 2138.5,979.7 2147.4,979.4 2151.2,980.5 2155.7,980.4 2163.1,980.3 2169.1,980.9 2176.7,980.9 2181.1,980.6 2194.5,980.8 2209.5,980.8 2220.0,980.5 2223.0,980.0 2226.8,979.6 2232.0,980.1 2238.0,980.1 2244.0,979.3 2247.0,979.1 2251.4,979.4 2255.9,980.1 2263.4,980.4 2270.9,980.1 2275.4,979.2 2278.4,979.0 2281.4,979.1 2284.4,978.6 2287.4,978.7 2290.4,976.8 2296.4,976.3 2301.5,975.6 2311.2,975.8 2318.8,975.5 2321.8,974.9 2325.5,974.9 2327.8,971.8 2332.2,971.7 2342.7,971.5 2348.7,970.9 2356.2,970.8 2363.6,969.8 2374.1,969.4 2377.8,968.2 2386.1,967.3 2389.0,966.5 2389.0,966.1 2389.0,966.0 2389.0,1011.0" fill="#41434e"/>
<polyline points="229.6,1011.0 229.6,1000.9 421.3,1000.9 435.4,1000.6 450.5,1000.3 463.6,1000.3 491.8,1000.3 525.6,999.9 585.8,999.9 651.5,1000.0 726.6,1000.1 783.1,1000.3 820.7,1000.1 832.0,999.9 839.4,999.3 858.2,999.3 895.8,999.1 903.4,998.8 937.0,998.8 944.8,998.3 962.5,998.1 1015.5,997.9 1039.2,997.8 1063.7,997.4 1086.3,997.3 1094.2,997.5 1107.9,997.3 1133.5,997.3 1192.4,997.0 1241.5,996.6 1251.3,996.8 1270.9,996.5 1290.6,996.4 1300.4,996.2 1314.2,996.4 1326.0,996.4 1345.7,996.2 1352.5,996.2 1371.0,995.8 1379.1,995.5 1385.2,994.8 1396.5,994.7 1402.7,993.1 1407.9,992.8 1417.1,991.8 1423.2,991.6 1427.3,992.1 1433.4,991.4 1440.6,991.1 1447.8,992.2 1464.2,992.5 1469.4,993.3 1485.7,993.4 1518.6,993.4 1526.7,993.1 1535.9,992.8 1542.1,992.7 1552.4,993.1 1567.8,993.5 1573.9,993.6 1578.0,992.8 1581.1,991.8 1593.4,992.0 1595.9,990.8 1596.9,988.2 1599.2,987.7 1602.6,985.1 1605.4,984.6 1608.8,984.7 1615.0,985.2 1621.2,985.1 1629.5,985.3 1632.9,984.5 1636.4,982.8 1639.4,981.0 1643.2,981.0 1651.5,980.2 1659.8,980.3 1666.0,979.4 1677.7,979.4 1681.9,977.2 1688.7,977.1 1694.3,976.4 1699.8,976.0 1707.0,976.2 1711.3,976.3 1726.5,976.0 1733.0,975.8 1748.1,975.6 1752.5,975.3 1763.3,975.3 1774.2,975.6 1778.4,975.3 1788.2,975.3 1794.8,974.6 1800.1,974.6 1813.2,974.7 1818.5,975.3 1821.7,975.2 1825.0,974.6 1834.8,974.6 1842.3,974.5 1844.5,974.9 1847.8,977.3 1851.0,977.7 1854.2,979.3 1862.9,979.4 1867.2,980.8 1871.5,981.1 1879.1,980.5 1884.0,981.4 1888.3,980.6 1894.8,980.4 1900.2,980.1 1903.4,980.0 1906.7,979.0 1912.1,978.8 1919.6,978.4 1931.6,978.4 1942.4,978.1 1945.7,979.3 1953.2,979.4 1960.7,979.5 1966.2,979.1 1974.8,978.9 1978.1,979.7 1986.8,979.7 1991.1,978.6 1998.7,978.5 2000.9,976.7 2004.1,975.0 2009.5,974.2 2014.9,974.0 2018.1,973.3 2031.1,973.3 2040.9,973.0 2044.2,973.4 2046.3,974.5 2050.3,974.5 2052.1,978.2 2058.4,977.9 2063.0,977.5 2077.9,977.3 2088.4,977.6 2089.8,979.7 2101.8,979.4 2106.3,979.7 2110.8,979.5 2119.8,979.6 2125.8,979.2 2135.5,979.0 2138.5,979.7 2147.4,979.4 2151.2,980.5 2155.7,980.4 2163.1,980.3 2169.1,980.9 2176.7,980.9 2181.1,980.6 2194.5,980.8 2209.5,980.8 2220.0,980.5 2223.0,980.0 2226.8,979.6 2232.0,980.1 2238.0,980.1 2244.0,979.3 2247.0,979.1 2251.4,979.4 2255.9,980.1 2263.4,980.4 2270.9,980.1 2275.4,979.2 2278.4,979.0 2281.4,979.1 2284.4,978.6 2287.4,978.7 2290.4,976.8 2296.4,976.3 2301.5,975.6 2311.2,975.8 2318.8,975.5 2321.8,974.9 2325.5,974.9 2327.8,971.8 2332.2,971.7 2342.7,971.5 2348.7,970.9 2356.2,970.8 2363.6,969.8 2374.1,969.4 2377.8,968.2 2386.1,967.3 2389.0,966.5 2389.0,966.1 2389.0,966.0 2389.0,1011.0" fill="none" stroke="#6a73a2" stroke-width="1"/>
<rect x="40" y="953" width="2351" height="2.2" fill="#98999b"/>
<rect x="40" y="1010.8" width="2351" height="2.2" fill="#a4a7b4"/>
<rect x="40" y="953" width="2.6" height="60" fill="#f2f2f2"/>
<rect x="2388.6" y="953" width="2.8" height="60" fill="#f2f2f2"/>
<rect x="35.5" y="964.3" width="12.6" height="37.8" rx="4" ry="4" fill="#0c0d0e" stroke="#f2f2f2" stroke-width="2"/>
<rect x="40.2" y="966" width="2.2" height="34.5" fill="#4a4b4d"/>
<rect x="2383.6" y="964.3" width="12.6" height="37.8" rx="4" ry="4" fill="#26272c" stroke="#f2f2f2" stroke-width="2"/>
<rect x="2388.9" y="966" width="2.2" height="34.5" fill="#6a6b70"/>
</svg>

</div></body></html>
